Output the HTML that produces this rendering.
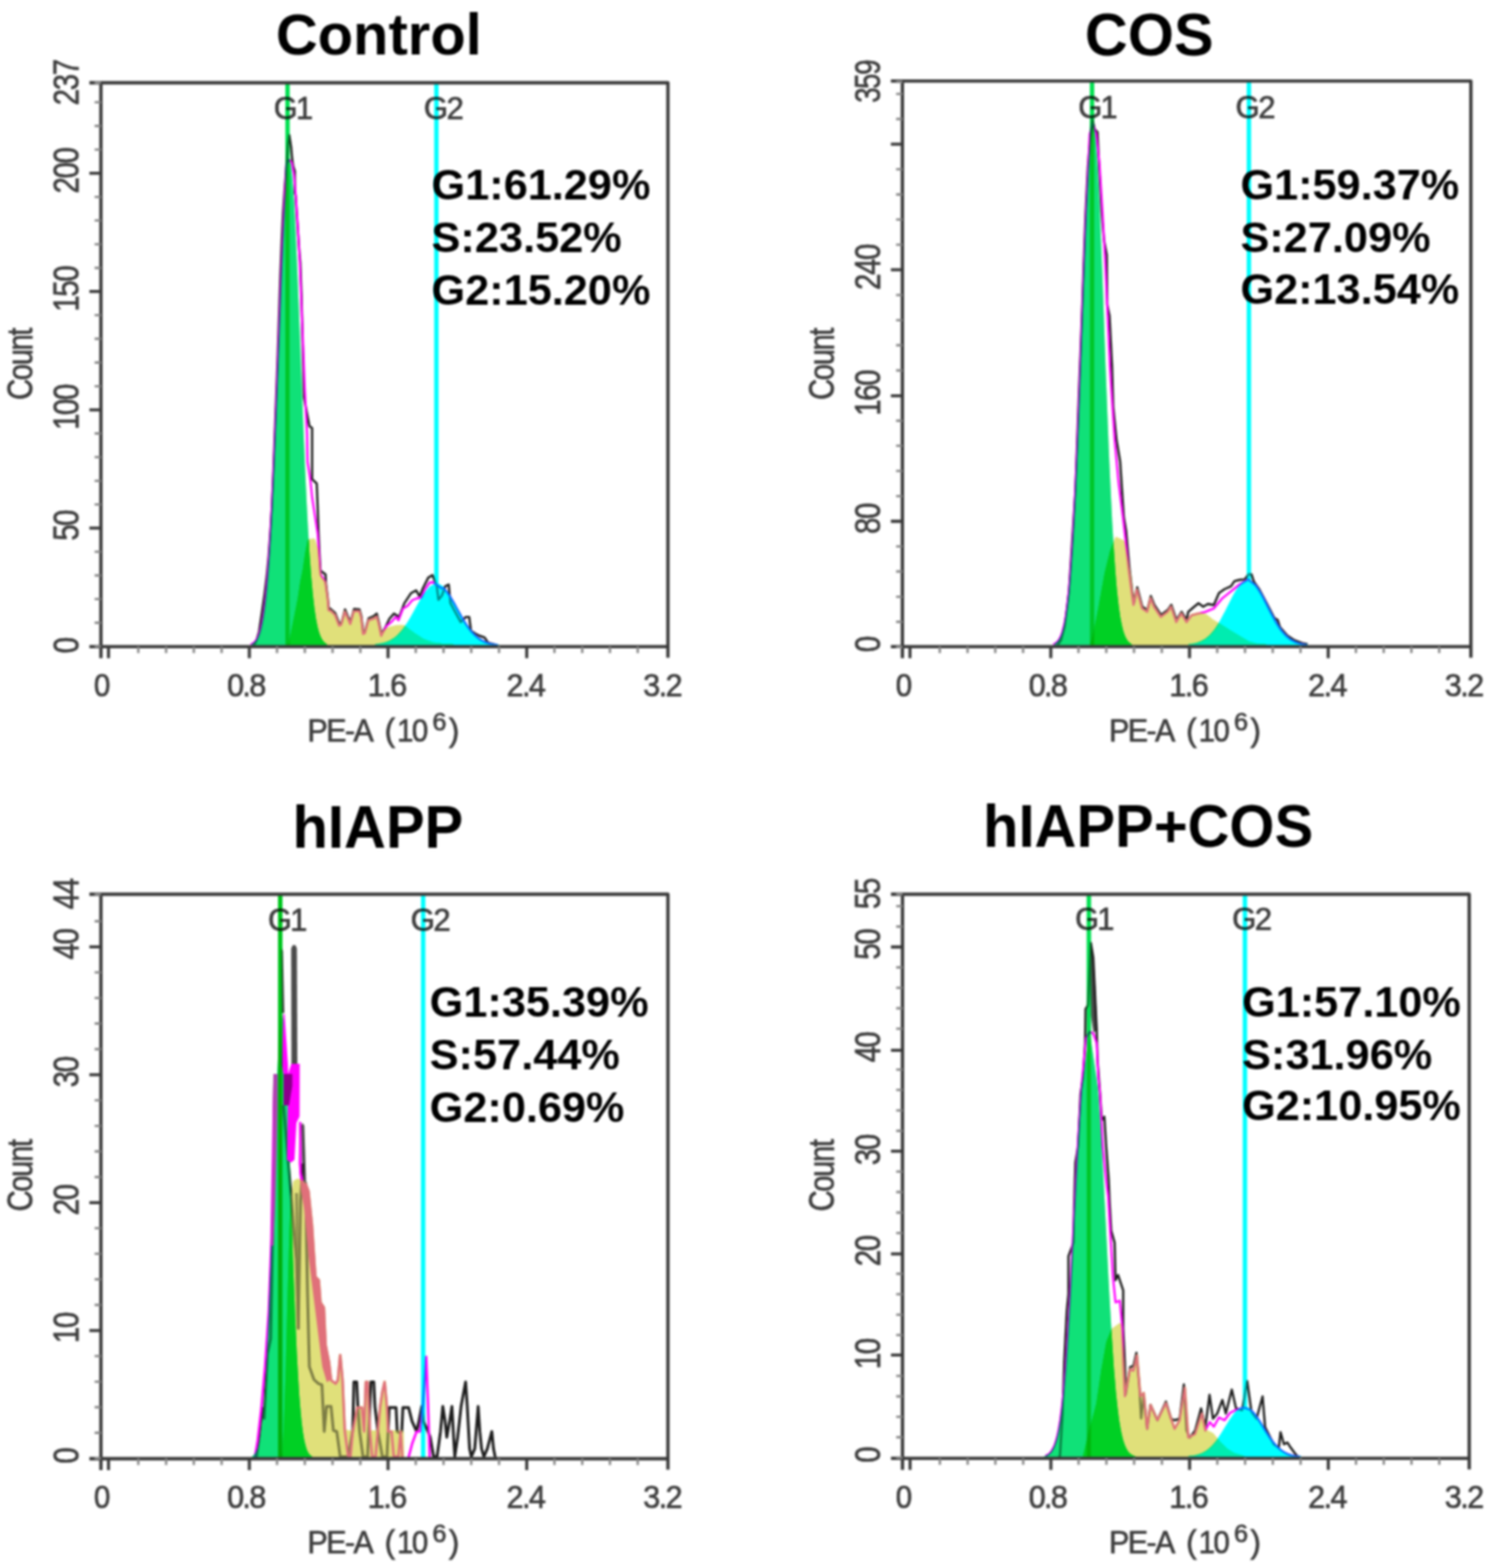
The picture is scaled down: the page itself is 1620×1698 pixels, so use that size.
<!DOCTYPE html>
<html lang="en"><head><meta charset="utf-8"><title>Cell cycle analysis</title>
<style>html,body{margin:0;padding:0;background:#fff}body{width:1620px;height:1698px;overflow:hidden}
svg{display:block;font-family:'Liberation Sans', sans-serif}
.m{mix-blend-mode:multiply}.i{isolation:isolate}
</style></head><body>
<svg width="1620" height="1698" viewBox="0 0 1620 1698">
<defs><filter id="b1" x="0" y="0" width="1620" height="1698" filterUnits="userSpaceOnUse" color-interpolation-filters="sRGB"><feGaussianBlur stdDeviation="0.9"/></filter>
<filter id="b2" x="0" y="0" width="1620" height="1698" filterUnits="userSpaceOnUse" color-interpolation-filters="sRGB"><feGaussianBlur stdDeviation="1.0"/></filter></defs>
<rect width="1620" height="1698" fill="#fff"/>
<g filter="url(#b1)"><rect width="1620" height="1698" fill="#fff"/>
<g id="p1">
<g fill="none" stroke-linejoin="round">
<path d="M275 699 L277.5 694 L280.5 684 L283.5 664 L286.5 643 L288.8 624 L290.8 603 L292.8 575 L294.3 550 L296 510 L297.5 470 L299 430 L300.5 390 L302 345 L303.5 300 L305 262 L306.5 230 L308.5 200 L310.5 175 L312 155 L313.3 146.5 L315.3 159.6 L316.3 171.5 L317.5 180 L319.3 185.3 L319.3 209 L320.2 212 L321.2 228.8 L322.2 243.6 L323.2 258.4 L324.2 273.2 L325.2 284 L326.5 320 L327.5 360 L328.5 400 L329.1 430 L335.1 461.5 L338 463.5 L338 518.8 L343 523.7 L344 548.4 L345 578 L346 600 L347 618 L352.5 622 L353 632 L355 648 L356 658 L358.5 660 L363 664 L367.5 675.5 L370 674 L373.6 660 L376.5 667 L379.5 673.5 L383.4 659.5 L389.3 660 L391.3 667 L393.3 684.5 L395.3 683.5 L399.2 669.5 L405 667 L408 664.5 L410 672.5 L413 686.5 L417.4 679.3 L421.7 670 L426.7 664.4 L432.2 668.1 L437.8 653.3 L445.2 642.2 L450.7 639.4 L454.4 645.9 L458 637 L463.7 625.6 L468.3 622.8 L473 634.8 L474.8 649.6 L478.5 645 L482.2 634.8 L485.9 633 L487.8 653.3 L493 663 L498.9 673.7 L504.4 668.1 L508.1 668.1 L510 683 L514.5 686 L519.3 688.5 L524.8 690.4 L528.5 696 L537.8 698.7" stroke="#1c1c1c" stroke-width="2.4"/>
<path d="M271.3 697.9 L272.5 697.5 L273.7 696.8 L274.9 696 L276.1 694.8 L277.3 693.3 L278.5 691.3 L279.7 688.7 L280.9 685.4 L282.1 681.2 L283.3 676 L284.5 669.6 L285.7 661.8 L286.9 652.3 L288.1 641.1 L289.3 627.9 L290.5 612.6 L291.7 595 L292.9 575.1 L294.1 552.9 L295.3 528.3 L296.5 501.7 L297.7 473.2 L298.9 443.1 L300.1 411.9 L301.3 380.1 L302.5 348.3 L303.7 317.1 L304.9 287.4 L306.1 259.7 L307.3 234.9 L310 178 L313 173 L316 176 L318.5 190 L320.5 215 L322.5 245 L324.5 280 L326.5 330 L328.5 380 L330 420 L331.5 450 L332.5 470 L333 500 L336 518.8 L338 538.5 L341 558.3 L344 578 L345.5 600 L347 622 L352.2 630 L354.8 648.3 L355.7 660.7 L358.3 661.6 L362.8 666 L367.2 677.5 L369.4 676.7 L373.4 662.5 L376.3 668.8 L379.3 675.7 L383.2 661.9 L389.1 661.9 L391.1 668.8 L393.1 686.5 L395.1 685.6 L399 671.7 L404.9 669.8 L407.9 667.8 L409.9 674.7 L412.8 688.5 L414.8 684.6 L418.8 677.6 L423.7 673.7 L428.6 668 L431.6 671.7 L436.5 658.9 L441.4 655.9 L446.4 650 L451.3 648 L456.3 647 L460.2 638.1 L465.2 631 L469 630.5 L472.5 633 L478 637 L480.3 636.9 L482.2 638.9 L484.1 641.3 L486 644 L487.9 646.9 L489.8 650.1 L491.7 653.4 L493.5 656.8 L495.4 660.2 L497.3 663.6 L499.2 667 L501.1 670.2 L503 673.3 L504.9 676.3 L506.7 679 L508.6 681.6 L510.5 683.9 L512.4 686 L514.3 687.9 L516.2 689.6 L518.1 691.1 L519.9 692.5 L521.8 693.6 L523.7 694.6 L525.6 695.4 L527.5 696.1 L529.4 696.7 L531.3 697.2 L533.1 697.6 L535 697.9 L536.9 698.2 L538.8 698.4" stroke="#ff00ff" stroke-width="2.3"/>
</g>
<clipPath id="a1"><path d="M272.5 699.1 L272.5 697.5 L274.2 696.5 L275.9 695 L277.6 692.8 L279.3 689.6 L281 685 L282.7 678.7 L284.4 670.2 L286.1 658.8 L287.8 644.1 L289.5 625.5 L291.2 602.6 L292.9 575.1 L294.6 542.9 L296.3 506.3 L298 465.8 L299.7 422.4 L301.4 377.4 L303.1 332.6 L304.8 289.8 L306.5 251.1 L308.2 218.5 L309.9 193.8 L311.6 178.4 L313.3 173.1 L315 178.4 L316.7 193.8 L318.4 218.5 L320.1 251.1 L321.8 289.8 L323.5 332.6 L325.2 377.4 L326.9 422.4 L328.6 465.8 L330.3 506.3 L332 542.9 L333.7 575.1 L335.4 602.6 L337.1 625.5 L338.8 644.1 L340.5 658.8 L342.2 670.2 L343.9 678.7 L345.6 685 L347.3 689.6 L349 692.8 L350.7 695 L352.4 696.5 L354.1 697.5 L354.1 699.1Z"/></clipPath>
<clipPath id="c1"><path d="M406.8 699.1 L406.8 698.4 L409.6 698 L412.3 697.6 L415.1 697 L417.8 696.2 L420.6 695.2 L423.3 693.8 L426.1 692.2 L428.8 690.2 L431.6 687.7 L434.3 684.8 L437.1 681.5 L439.8 677.7 L442.6 673.5 L445.3 668.9 L448.1 664 L450.8 659.1 L453.6 654.1 L456.3 649.3 L459.1 644.8 L461.8 640.9 L464.6 637.6 L467.3 635.1 L470.1 633.6 L472.8 633.1 L475.6 633.6 L478.3 635.1 L481.1 637.6 L483.8 640.9 L486.6 644.8 L489.3 649.3 L492.1 654.1 L494.8 659.1 L497.6 664 L500.3 668.9 L503.1 673.5 L505.8 677.7 L508.6 681.5 L511.3 684.8 L514 687.7 L516.8 690.2 L519.5 692.2 L522.3 693.8 L525 695.2 L527.8 696.2 L530.5 697 L533.3 697.6 L536 698 L538.8 698.4 L538.8 699.1Z"/></clipPath>
<g class="m i"><path class="m" d="M272.5 699.1 L272.5 697.5 L274.2 696.5 L275.9 695 L277.6 692.8 L279.3 689.6 L281 685 L282.7 678.7 L284.4 670.2 L286.1 658.8 L287.8 644.1 L289.5 625.5 L291.2 602.6 L292.9 575.1 L294.6 542.9 L296.3 506.3 L298 465.8 L299.7 422.4 L301.4 377.4 L303.1 332.6 L304.8 289.8 L306.5 251.1 L308.2 218.5 L309.9 193.8 L311.6 178.4 L313.3 173.1 L315 178.4 L316.7 193.8 L318.4 218.5 L320.1 251.1 L321.8 289.8 L323.5 332.6 L325.2 377.4 L326.9 422.4 L328.6 465.8 L330.3 506.3 L332 542.9 L333.7 575.1 L335.4 602.6 L337.1 625.5 L338.8 644.1 L340.5 658.8 L342.2 670.2 L343.9 678.7 L345.6 685 L347.3 689.6 L349 692.8 L350.7 695 L352.4 696.5 L354.1 697.5 L354.1 699.1Z" fill="#10e178"/><path class="m" d="M313.7 699 L316.8 683.7 L320.4 666 L323.9 648.3 L326.5 630.7 L329.2 617.4 L331.8 599.8 L334.5 585.6 L339.8 584.7 L343.3 595.3 L345.1 613 L346.5 625 L352.2 630.7 L354.8 648.3 L355.7 660.7 L358.3 661.6 L362.8 666 L367.2 677.5 L369.4 676.7 L373.4 662.5 L376.3 668.8 L379.3 675.7 L383.2 661.9 L389.1 661.9 L391.1 668.8 L393.1 686.5 L395.1 685.6 L399 671.7 L404.9 669.8 L407.9 667.8 L409.9 674.7 L412.8 688.5 L414.8 684.6 L418.8 681.6 L423.7 679.6 L428.6 678.6 L433.6 678.2 L437.5 678.6 L443.5 683.6 L448.4 687 L458.3 693.5 L468.1 696.9 L478 698.3 L490 699Z" fill="#e0e07a" stroke="#e0e07a" stroke-width="3" stroke-linejoin="round"/><path d="M313.7 699 L316.8 683.7 L320.4 666 L323.9 648.3 L326.5 630.7 L329.2 617.4 L331.8 599.8 L334.5 585.6 L339.8 584.7 L343.3 595.3 L345.1 613 L346.5 625 L352.2 630.7 L354.8 648.3 L355.7 660.7 L358.3 661.6 L362.8 666 L367.2 677.5 L369.4 676.7 L373.4 662.5 L376.3 668.8 L379.3 675.7 L383.2 661.9 L389.1 661.9 L391.1 668.8 L393.1 686.5 L395.1 685.6 L399 671.7 L404.9 669.8 L407.9 667.8 L409.9 674.7 L412.8 688.5 L414.8 684.6 L418.8 681.6 L423.7 679.6 L428.6 678.6 L433.6 678.2 L437.5 678.6 L443.5 683.6 L448.4 687 L458.3 693.5 L468.1 696.9 L478 698.3 L490 699Z" fill="#00d024" stroke="#00d024" stroke-width="3" stroke-linejoin="round" clip-path="url(#a1)"/><path class="m" d="M406.8 699.1 L406.8 698.4 L409.6 698 L412.3 697.6 L415.1 697 L417.8 696.2 L420.6 695.2 L423.3 693.8 L426.1 692.2 L428.8 690.2 L431.6 687.7 L434.3 684.8 L437.1 681.5 L439.8 677.7 L442.6 673.5 L445.3 668.9 L448.1 664 L450.8 659.1 L453.6 654.1 L456.3 649.3 L459.1 644.8 L461.8 640.9 L464.6 637.6 L467.3 635.1 L470.1 633.6 L472.8 633.1 L475.6 633.6 L478.3 635.1 L481.1 637.6 L483.8 640.9 L486.6 644.8 L489.3 649.3 L492.1 654.1 L494.8 659.1 L497.6 664 L500.3 668.9 L503.1 673.5 L505.8 677.7 L508.6 681.5 L511.3 684.8 L514 687.7 L516.8 690.2 L519.5 692.2 L522.3 693.8 L525 695.2 L527.8 696.2 L530.5 697 L533.3 697.6 L536 698 L538.8 698.4 L538.8 699.1Z" fill="#00ffff" stroke="#00ffff" stroke-width="2" stroke-linejoin="round"/><path d="M313.7 699 L316.8 683.7 L320.4 666 L323.9 648.3 L326.5 630.7 L329.2 617.4 L331.8 599.8 L334.5 585.6 L339.8 584.7 L343.3 595.3 L345.1 613 L346.5 625 L352.2 630.7 L354.8 648.3 L355.7 660.7 L358.3 661.6 L362.8 666 L367.2 677.5 L369.4 676.7 L373.4 662.5 L376.3 668.8 L379.3 675.7 L383.2 661.9 L389.1 661.9 L391.1 668.8 L393.1 686.5 L395.1 685.6 L399 671.7 L404.9 669.8 L407.9 667.8 L409.9 674.7 L412.8 688.5 L414.8 684.6 L418.8 681.6 L423.7 679.6 L428.6 678.6 L433.6 678.2 L437.5 678.6 L443.5 683.6 L448.4 687 L458.3 693.5 L468.1 696.9 L478 698.3 L490 699Z" fill="#00ecb0" stroke="#00ecb0" stroke-width="3" stroke-linejoin="round" clip-path="url(#c1)"/><path class="m" d="M311.3 90.6 V699.3" stroke="#00e050" stroke-width="4.6" fill="none"/><path class="m" d="M472.6 90.6 V699.3" stroke="#00ffff" stroke-width="4.6" fill="none"/></g>
<g class="i" opacity="0.5"><path class="m" d="M272.5 699.1 L272.5 697.5 L274.2 696.5 L275.9 695 L277.6 692.8 L279.3 689.6 L281 685 L282.7 678.7 L284.4 670.2 L286.1 658.8 L287.8 644.1 L289.5 625.5 L291.2 602.6 L292.9 575.1 L294.6 542.9 L296.3 506.3 L298 465.8 L299.7 422.4 L301.4 377.4 L303.1 332.6 L304.8 289.8 L306.5 251.1 L308.2 218.5 L309.9 193.8 L311.6 178.4 L313.3 173.1 L315 178.4 L316.7 193.8 L318.4 218.5 L320.1 251.1 L321.8 289.8 L323.5 332.6 L325.2 377.4 L326.9 422.4 L328.6 465.8 L330.3 506.3 L332 542.9 L333.7 575.1 L335.4 602.6 L337.1 625.5 L338.8 644.1 L340.5 658.8 L342.2 670.2 L343.9 678.7 L345.6 685 L347.3 689.6 L349 692.8 L350.7 695 L352.4 696.5 L354.1 697.5 L354.1 699.1Z" fill="#10e178"/><path class="m" d="M313.7 699 L316.8 683.7 L320.4 666 L323.9 648.3 L326.5 630.7 L329.2 617.4 L331.8 599.8 L334.5 585.6 L339.8 584.7 L343.3 595.3 L345.1 613 L346.5 625 L352.2 630.7 L354.8 648.3 L355.7 660.7 L358.3 661.6 L362.8 666 L367.2 677.5 L369.4 676.7 L373.4 662.5 L376.3 668.8 L379.3 675.7 L383.2 661.9 L389.1 661.9 L391.1 668.8 L393.1 686.5 L395.1 685.6 L399 671.7 L404.9 669.8 L407.9 667.8 L409.9 674.7 L412.8 688.5 L414.8 684.6 L418.8 681.6 L423.7 679.6 L428.6 678.6 L433.6 678.2 L437.5 678.6 L443.5 683.6 L448.4 687 L458.3 693.5 L468.1 696.9 L478 698.3 L490 699Z" fill="#e0e07a" stroke="#e0e07a" stroke-width="3" stroke-linejoin="round"/><path d="M313.7 699 L316.8 683.7 L320.4 666 L323.9 648.3 L326.5 630.7 L329.2 617.4 L331.8 599.8 L334.5 585.6 L339.8 584.7 L343.3 595.3 L345.1 613 L346.5 625 L352.2 630.7 L354.8 648.3 L355.7 660.7 L358.3 661.6 L362.8 666 L367.2 677.5 L369.4 676.7 L373.4 662.5 L376.3 668.8 L379.3 675.7 L383.2 661.9 L389.1 661.9 L391.1 668.8 L393.1 686.5 L395.1 685.6 L399 671.7 L404.9 669.8 L407.9 667.8 L409.9 674.7 L412.8 688.5 L414.8 684.6 L418.8 681.6 L423.7 679.6 L428.6 678.6 L433.6 678.2 L437.5 678.6 L443.5 683.6 L448.4 687 L458.3 693.5 L468.1 696.9 L478 698.3 L490 699Z" fill="#00d024" stroke="#00d024" stroke-width="3" stroke-linejoin="round" clip-path="url(#a1)"/><path class="m" d="M406.8 699.1 L406.8 698.4 L409.6 698 L412.3 697.6 L415.1 697 L417.8 696.2 L420.6 695.2 L423.3 693.8 L426.1 692.2 L428.8 690.2 L431.6 687.7 L434.3 684.8 L437.1 681.5 L439.8 677.7 L442.6 673.5 L445.3 668.9 L448.1 664 L450.8 659.1 L453.6 654.1 L456.3 649.3 L459.1 644.8 L461.8 640.9 L464.6 637.6 L467.3 635.1 L470.1 633.6 L472.8 633.1 L475.6 633.6 L478.3 635.1 L481.1 637.6 L483.8 640.9 L486.6 644.8 L489.3 649.3 L492.1 654.1 L494.8 659.1 L497.6 664 L500.3 668.9 L503.1 673.5 L505.8 677.7 L508.6 681.5 L511.3 684.8 L514 687.7 L516.8 690.2 L519.5 692.2 L522.3 693.8 L525 695.2 L527.8 696.2 L530.5 697 L533.3 697.6 L536 698 L538.8 698.4 L538.8 699.1Z" fill="#00ffff" stroke="#00ffff" stroke-width="2" stroke-linejoin="round"/><path d="M313.7 699 L316.8 683.7 L320.4 666 L323.9 648.3 L326.5 630.7 L329.2 617.4 L331.8 599.8 L334.5 585.6 L339.8 584.7 L343.3 595.3 L345.1 613 L346.5 625 L352.2 630.7 L354.8 648.3 L355.7 660.7 L358.3 661.6 L362.8 666 L367.2 677.5 L369.4 676.7 L373.4 662.5 L376.3 668.8 L379.3 675.7 L383.2 661.9 L389.1 661.9 L391.1 668.8 L393.1 686.5 L395.1 685.6 L399 671.7 L404.9 669.8 L407.9 667.8 L409.9 674.7 L412.8 688.5 L414.8 684.6 L418.8 681.6 L423.7 679.6 L428.6 678.6 L433.6 678.2 L437.5 678.6 L443.5 683.6 L448.4 687 L458.3 693.5 L468.1 696.9 L478 698.3 L490 699Z" fill="#00ecb0" stroke="#00ecb0" stroke-width="3" stroke-linejoin="round" clip-path="url(#c1)"/><path class="m" d="M311.3 90.6 V699.3" stroke="#00e050" stroke-width="4.6" fill="none"/><path class="m" d="M472.6 90.6 V699.3" stroke="#00ffff" stroke-width="4.6" fill="none"/></g>
<g stroke="#3a3a3a" fill="none">
<path d="M96.8 89.6 H723.3 V712.3" stroke-width="3.6" stroke-linejoin="round"/>
<path d="M109.3 89.6 V712.8 M96.8 700.3 H723.3" stroke-width="3.6"/>
<path d="M117.5 700.3 V712.8M270 700.3 V712.8M420.2 700.3 V712.8M570.4 700.3 V712.8M109.3 571.9 H96.8M109.3 443.8 H96.8M109.3 315.7 H96.8M109.3 187.6 H96.8" stroke-width="3.3"/>
<path d="M149.8 700.3 V707.3M179.9 700.3 V707.3M209.9 700.3 V707.3M240 700.3 V707.3M300 700.3 V707.3M330.1 700.3 V707.3M360.1 700.3 V707.3M390.2 700.3 V707.3M450.2 700.3 V707.3M480.3 700.3 V707.3M510.3 700.3 V707.3M540.4 700.3 V707.3M600.4 700.3 V707.3M630.5 700.3 V707.3M660.5 700.3 V707.3M690.6 700.3 V707.3M109.3 674.4 H102.5M109.3 648.8 H102.5M109.3 623.1 H102.5M109.3 597.5 H102.5M109.3 546.3 H102.5M109.3 520.7 H102.5M109.3 495 H102.5M109.3 469.4 H102.5M109.3 418.2 H102.5M109.3 392.6 H102.5M109.3 366.9 H102.5M109.3 341.3 H102.5M109.3 290.1 H102.5M109.3 264.5 H102.5M109.3 238.8 H102.5M109.3 213.2 H102.5M109.3 162 H102.5M109.3 136.4 H102.5M109.3 110.7 H102.5M109.3 700 H102.5M109.3 89.6 H102.5" stroke-width="2.6" stroke="#8a8a8a"/>
</g>
<g class="t">
<text transform="translate(85 569.4) rotate(-90)" font-size="38" text-anchor="middle" stroke="#3c3c3c" stroke-width="0.7" letter-spacing="-1.8" fill="#3c3c3c" textLength="32.4" lengthAdjust="spacingAndGlyphs">50</text>
<text transform="translate(85 441.3) rotate(-90)" font-size="38" text-anchor="middle" stroke="#3c3c3c" stroke-width="0.7" letter-spacing="-1.8" fill="#3c3c3c" textLength="48.6" lengthAdjust="spacingAndGlyphs">100</text>
<text transform="translate(85 313.2) rotate(-90)" font-size="38" text-anchor="middle" stroke="#3c3c3c" stroke-width="0.7" letter-spacing="-1.8" fill="#3c3c3c" textLength="48.6" lengthAdjust="spacingAndGlyphs">150</text>
<text transform="translate(85 185.1) rotate(-90)" font-size="38" text-anchor="middle" stroke="#3c3c3c" stroke-width="0.7" letter-spacing="-1.8" fill="#3c3c3c" textLength="48.6" lengthAdjust="spacingAndGlyphs">200</text>
<text transform="translate(85 699.5) rotate(-90)" font-size="38" text-anchor="middle" stroke="#3c3c3c" stroke-width="0.7" letter-spacing="-1.8" fill="#3c3c3c" textLength="16.2" lengthAdjust="spacingAndGlyphs">0</text>
<text transform="translate(85 89.6) rotate(-90)" font-size="38" text-anchor="middle" stroke="#3c3c3c" stroke-width="0.7" letter-spacing="-1.8" fill="#3c3c3c" textLength="48.6" lengthAdjust="spacingAndGlyphs">237</text>
<text x="109.7" y="753.8" font-size="34.3" text-anchor="middle" stroke="#3c3c3c" stroke-width="0.7" letter-spacing="-1.8" fill="#3c3c3c" textLength="16" lengthAdjust="spacingAndGlyphs">0</text>
<text x="266.3" y="753.8" font-size="34.3" text-anchor="middle" stroke="#3c3c3c" stroke-width="0.7" letter-spacing="-1.8" fill="#3c3c3c" textLength="40.8" lengthAdjust="spacingAndGlyphs">0.8</text>
<text x="418.7" y="753.8" font-size="34.3" text-anchor="middle" stroke="#3c3c3c" stroke-width="0.7" letter-spacing="-1.8" fill="#3c3c3c" textLength="40.8" lengthAdjust="spacingAndGlyphs">1.6</text>
<text x="569" y="753.8" font-size="34.3" text-anchor="middle" stroke="#3c3c3c" stroke-width="0.7" letter-spacing="-1.8" fill="#3c3c3c" textLength="40.8" lengthAdjust="spacingAndGlyphs">2.4</text>
<text x="717" y="753.8" font-size="34.3" text-anchor="middle" stroke="#3c3c3c" stroke-width="0.7" letter-spacing="-1.8" fill="#3c3c3c" textLength="40.8" lengthAdjust="spacingAndGlyphs">3.2</text>
<text y="803" font-size="34.3" fill="#3c3c3c" stroke="#3c3c3c" stroke-width="0.7" letter-spacing="-1.8"><tspan x="333" textLength="70" lengthAdjust="spacingAndGlyphs">PE-A</tspan><tspan x="408.8"> (</tspan><tspan x="430" textLength="32" lengthAdjust="spacingAndGlyphs">10</tspan><tspan x="468.2" dy="-11.8" font-size="27.4">6</tspan><tspan x="486" dy="11.8">)</tspan></text>
<text transform="translate(34.8 394.6) rotate(-90)" font-size="38" text-anchor="middle" stroke="#3c3c3c" stroke-width="0.7" letter-spacing="-1.8" fill="#3c3c3c" textLength="76.8" lengthAdjust="spacingAndGlyphs">Count</text>
</g>
<g class="t m">
<text x="296.5" y="129.3" font-size="34.3" text-anchor="start" stroke="#3c3c3c" stroke-width="0.7" letter-spacing="-1.8" fill="#3c3c3c" textLength="40.8" lengthAdjust="spacingAndGlyphs" class="m">G1</text>
<text x="459" y="129.3" font-size="34.3" text-anchor="start" stroke="#3c3c3c" stroke-width="0.7" letter-spacing="-1.8" fill="#3c3c3c" textLength="41.5" lengthAdjust="spacingAndGlyphs" class="m">G2</text>
</g>
</g>
<g id="p2">
<g fill="none" stroke-linejoin="round">
<path d="M1145 699 L1149 693 L1153 678 L1157.5 641 L1161 586 L1164.5 531 L1166.5 475 L1168.5 420 L1170.5 370 L1172 330 L1173.5 286 L1175.5 231 L1178 180 L1180.5 150 L1183 129.5 L1185.5 140 L1188.5 143 L1190 175 L1193 230 L1195.5 260 L1198.5 276 L1199 330 L1201.5 342 L1204.3 397.8 L1205.5 440 L1209 475.6 L1213 500 L1217 560 L1219.5 575 L1223 615 L1226 640 L1228 653 L1231.5 636 L1237 657 L1242.5 660.5 L1246.2 645.5 L1250 655 L1257.3 666 L1264.6 660.5 L1268.4 655 L1274 671.5 L1279.6 662.5 L1285 671.5 L1286.7 662.6 L1292 658 L1297.8 653.3 L1303 657 L1308 654 L1314.4 655.2 L1320 642.2 L1326 638 L1333 634.8 L1336.7 629.3 L1342 628 L1347.8 627.4 L1352 622 L1355.2 621.9 L1358 630.3 L1364 638.8 L1372 653.7 L1380 669.2 L1383.5 671.2 L1386 679 L1394 688.2 L1402 693.5 L1410 696.3 L1416 697.6" stroke="#1c1c1c" stroke-width="2.4"/>
<path d="M1140.5 697.9 L1141.7 697.4 L1142.9 696.7 L1144.1 695.7 L1145.4 694.5 L1146.6 692.8 L1147.8 690.7 L1149.1 687.9 L1150.3 684.3 L1151.5 679.9 L1152.8 674.3 L1154 667.4 L1155.2 659 L1156.4 648.9 L1157.7 636.8 L1158.9 622.6 L1160.1 606.2 L1161.4 587.3 L1162.6 565.9 L1163.8 542 L1165 515.7 L1166.3 487 L1167.5 456.4 L1168.7 424.1 L1170 390.6 L1171.2 356.4 L1172.4 322.3 L1173.7 288.8 L1174.9 256.9 L1176.1 227.2 L1177.4 200.5 L1180 145 L1183.5 134.5 L1187 145 L1190.5 175.6 L1194 231 L1197 286.7 L1199.5 342 L1202 397.8 L1204 430 L1207 475.6 L1211 520 L1216 560 L1219 586.7 L1222 615 L1225.6 642 L1227.4 655.2 L1231.1 638.5 L1236.7 658.9 L1242.2 662.6 L1245.9 647.8 L1249.6 657 L1257 668.1 L1264.4 662.6 L1268.1 657 L1273.7 673.7 L1279.3 664.4 L1284.8 673.7 L1290.4 666.3 L1297.8 664.4 L1305.2 662.6 L1314.4 658.9 L1323.7 647.8 L1333 640.4 L1342.2 633 L1351.5 627.4 L1358.8 633.1 L1360.6 635.2 L1362.4 637.8 L1364.2 640.6 L1366 643.8 L1367.9 647.1 L1369.7 650.6 L1371.5 654.2 L1373.3 657.9 L1375.1 661.5 L1376.9 665 L1378.8 668.5 L1380.6 671.8 L1382.4 674.9 L1384.2 677.8 L1386 680.5 L1387.8 683 L1389.7 685.2 L1391.5 687.3 L1393.3 689.1 L1395.1 690.7 L1396.9 692.1 L1398.7 693.3 L1400.6 694.3 L1402.4 695.2 L1404.2 695.9 L1406 696.5 L1407.8 697 L1409.6 697.5 L1411.5 697.8 L1413.3 698.1 L1415.1 698.3" stroke="#ff00ff" stroke-width="2.3"/>
</g>
<clipPath id="a2"><path d="M1141.7 699.1 L1141.7 697.4 L1143.4 696.3 L1145.2 694.7 L1146.9 692.3 L1148.7 688.9 L1150.4 684 L1152.1 677.2 L1153.9 668 L1155.6 655.8 L1157.4 640 L1159.1 620.1 L1160.8 595.5 L1162.6 565.9 L1164.3 531.3 L1166.1 492 L1167.8 448.5 L1169.6 401.8 L1171.3 353.6 L1173 305.4 L1174.8 259.5 L1176.5 217.9 L1178.3 182.9 L1180 156.3 L1181.8 139.7 L1183.5 134.1 L1185.2 139.7 L1187 156.3 L1188.7 182.9 L1190.5 217.9 L1192.2 259.5 L1194 305.4 L1195.7 353.6 L1197.4 401.8 L1199.2 448.5 L1200.9 492 L1202.7 531.3 L1204.4 565.9 L1206.2 595.5 L1207.9 620.1 L1209.6 640 L1211.4 655.8 L1213.1 668 L1214.9 677.2 L1216.6 684 L1218.4 688.9 L1220.1 692.3 L1221.8 694.7 L1223.6 696.3 L1225.3 697.4 L1225.3 699.1Z"/></clipPath>
<clipPath id="c2"><path d="M1287.9 699.1 L1287.9 698.3 L1290.6 698 L1293.2 697.5 L1295.9 696.9 L1298.5 696 L1301.2 694.9 L1303.8 693.5 L1306.5 691.8 L1309.1 689.6 L1311.8 687 L1314.4 684 L1317.1 680.4 L1319.7 676.4 L1322.4 671.9 L1325 667.1 L1327.7 661.9 L1330.3 656.6 L1333 651.4 L1335.6 646.3 L1338.2 641.5 L1340.9 637.3 L1343.6 633.9 L1346.2 631.3 L1348.9 629.6 L1351.5 629.1 L1354.2 629.6 L1356.8 631.3 L1359.5 633.9 L1362.1 637.3 L1364.8 641.5 L1367.4 646.3 L1370.1 651.4 L1372.7 656.6 L1375.4 661.9 L1378 667.1 L1380.7 671.9 L1383.3 676.4 L1386 680.4 L1388.6 684 L1391.2 687 L1393.9 689.6 L1396.6 691.8 L1399.2 693.5 L1401.9 694.9 L1404.5 696 L1407.2 696.9 L1409.8 697.5 L1412.5 698 L1415.1 698.3 L1415.1 699.1Z"/></clipPath>
<g class="m i"><path class="m" d="M1141.7 699.1 L1141.7 697.4 L1143.4 696.3 L1145.2 694.7 L1146.9 692.3 L1148.7 688.9 L1150.4 684 L1152.1 677.2 L1153.9 668 L1155.6 655.8 L1157.4 640 L1159.1 620.1 L1160.8 595.5 L1162.6 565.9 L1164.3 531.3 L1166.1 492 L1167.8 448.5 L1169.6 401.8 L1171.3 353.6 L1173 305.4 L1174.8 259.5 L1176.5 217.9 L1178.3 182.9 L1180 156.3 L1181.8 139.7 L1183.5 134.1 L1185.2 139.7 L1187 156.3 L1188.7 182.9 L1190.5 217.9 L1192.2 259.5 L1194 305.4 L1195.7 353.6 L1197.4 401.8 L1199.2 448.5 L1200.9 492 L1202.7 531.3 L1204.4 565.9 L1206.2 595.5 L1207.9 620.1 L1209.6 640 L1211.4 655.8 L1213.1 668 L1214.9 677.2 L1216.6 684 L1218.4 688.9 L1220.1 692.3 L1221.8 694.7 L1223.6 696.3 L1225.3 697.4 L1225.3 699.1Z" fill="#10e178"/><path class="m" d="M1182 699 L1184.8 688.5 L1190.4 660.7 L1197.8 620 L1203.3 597.8 L1208.9 583 L1216.3 586.7 L1220 605.2 L1223.7 623.7 L1227.4 655.2 L1231.1 638.5 L1236.7 658.9 L1242.2 662.6 L1245.9 647.8 L1249.6 657 L1257 668.1 L1264.4 662.6 L1268.1 657 L1273.7 673.7 L1279.3 664.4 L1284.8 673.7 L1290.4 666.3 L1297.8 664.4 L1305.2 666.3 L1312.6 671.9 L1320 676.5 L1333 684.8 L1342.2 690.4 L1351.5 695.9 L1360.7 698.5 L1370 699Z" fill="#e0e07a" stroke="#e0e07a" stroke-width="3" stroke-linejoin="round"/><path d="M1182 699 L1184.8 688.5 L1190.4 660.7 L1197.8 620 L1203.3 597.8 L1208.9 583 L1216.3 586.7 L1220 605.2 L1223.7 623.7 L1227.4 655.2 L1231.1 638.5 L1236.7 658.9 L1242.2 662.6 L1245.9 647.8 L1249.6 657 L1257 668.1 L1264.4 662.6 L1268.1 657 L1273.7 673.7 L1279.3 664.4 L1284.8 673.7 L1290.4 666.3 L1297.8 664.4 L1305.2 666.3 L1312.6 671.9 L1320 676.5 L1333 684.8 L1342.2 690.4 L1351.5 695.9 L1360.7 698.5 L1370 699Z" fill="#00d024" stroke="#00d024" stroke-width="3" stroke-linejoin="round" clip-path="url(#a2)"/><path class="m" d="M1287.9 699.1 L1287.9 698.3 L1290.6 698 L1293.2 697.5 L1295.9 696.9 L1298.5 696 L1301.2 694.9 L1303.8 693.5 L1306.5 691.8 L1309.1 689.6 L1311.8 687 L1314.4 684 L1317.1 680.4 L1319.7 676.4 L1322.4 671.9 L1325 667.1 L1327.7 661.9 L1330.3 656.6 L1333 651.4 L1335.6 646.3 L1338.2 641.5 L1340.9 637.3 L1343.6 633.9 L1346.2 631.3 L1348.9 629.6 L1351.5 629.1 L1354.2 629.6 L1356.8 631.3 L1359.5 633.9 L1362.1 637.3 L1364.8 641.5 L1367.4 646.3 L1370.1 651.4 L1372.7 656.6 L1375.4 661.9 L1378 667.1 L1380.7 671.9 L1383.3 676.4 L1386 680.4 L1388.6 684 L1391.2 687 L1393.9 689.6 L1396.6 691.8 L1399.2 693.5 L1401.9 694.9 L1404.5 696 L1407.2 696.9 L1409.8 697.5 L1412.5 698 L1415.1 698.3 L1415.1 699.1Z" fill="#00ffff" stroke="#00ffff" stroke-width="2" stroke-linejoin="round"/><path d="M1182 699 L1184.8 688.5 L1190.4 660.7 L1197.8 620 L1203.3 597.8 L1208.9 583 L1216.3 586.7 L1220 605.2 L1223.7 623.7 L1227.4 655.2 L1231.1 638.5 L1236.7 658.9 L1242.2 662.6 L1245.9 647.8 L1249.6 657 L1257 668.1 L1264.4 662.6 L1268.1 657 L1273.7 673.7 L1279.3 664.4 L1284.8 673.7 L1290.4 666.3 L1297.8 664.4 L1305.2 666.3 L1312.6 671.9 L1320 676.5 L1333 684.8 L1342.2 690.4 L1351.5 695.9 L1360.7 698.5 L1370 699Z" fill="#00ecb0" stroke="#00ecb0" stroke-width="3" stroke-linejoin="round" clip-path="url(#c2)"/><path class="m" d="M1182.6 88.8 V699.3" stroke="#00e050" stroke-width="4.6" fill="none"/><path class="m" d="M1352.4 88.8 V699.3" stroke="#00ffff" stroke-width="4.6" fill="none"/></g>
<g class="i" opacity="0.5"><path class="m" d="M1141.7 699.1 L1141.7 697.4 L1143.4 696.3 L1145.2 694.7 L1146.9 692.3 L1148.7 688.9 L1150.4 684 L1152.1 677.2 L1153.9 668 L1155.6 655.8 L1157.4 640 L1159.1 620.1 L1160.8 595.5 L1162.6 565.9 L1164.3 531.3 L1166.1 492 L1167.8 448.5 L1169.6 401.8 L1171.3 353.6 L1173 305.4 L1174.8 259.5 L1176.5 217.9 L1178.3 182.9 L1180 156.3 L1181.8 139.7 L1183.5 134.1 L1185.2 139.7 L1187 156.3 L1188.7 182.9 L1190.5 217.9 L1192.2 259.5 L1194 305.4 L1195.7 353.6 L1197.4 401.8 L1199.2 448.5 L1200.9 492 L1202.7 531.3 L1204.4 565.9 L1206.2 595.5 L1207.9 620.1 L1209.6 640 L1211.4 655.8 L1213.1 668 L1214.9 677.2 L1216.6 684 L1218.4 688.9 L1220.1 692.3 L1221.8 694.7 L1223.6 696.3 L1225.3 697.4 L1225.3 699.1Z" fill="#10e178"/><path class="m" d="M1182 699 L1184.8 688.5 L1190.4 660.7 L1197.8 620 L1203.3 597.8 L1208.9 583 L1216.3 586.7 L1220 605.2 L1223.7 623.7 L1227.4 655.2 L1231.1 638.5 L1236.7 658.9 L1242.2 662.6 L1245.9 647.8 L1249.6 657 L1257 668.1 L1264.4 662.6 L1268.1 657 L1273.7 673.7 L1279.3 664.4 L1284.8 673.7 L1290.4 666.3 L1297.8 664.4 L1305.2 666.3 L1312.6 671.9 L1320 676.5 L1333 684.8 L1342.2 690.4 L1351.5 695.9 L1360.7 698.5 L1370 699Z" fill="#e0e07a" stroke="#e0e07a" stroke-width="3" stroke-linejoin="round"/><path d="M1182 699 L1184.8 688.5 L1190.4 660.7 L1197.8 620 L1203.3 597.8 L1208.9 583 L1216.3 586.7 L1220 605.2 L1223.7 623.7 L1227.4 655.2 L1231.1 638.5 L1236.7 658.9 L1242.2 662.6 L1245.9 647.8 L1249.6 657 L1257 668.1 L1264.4 662.6 L1268.1 657 L1273.7 673.7 L1279.3 664.4 L1284.8 673.7 L1290.4 666.3 L1297.8 664.4 L1305.2 666.3 L1312.6 671.9 L1320 676.5 L1333 684.8 L1342.2 690.4 L1351.5 695.9 L1360.7 698.5 L1370 699Z" fill="#00d024" stroke="#00d024" stroke-width="3" stroke-linejoin="round" clip-path="url(#a2)"/><path class="m" d="M1287.9 699.1 L1287.9 698.3 L1290.6 698 L1293.2 697.5 L1295.9 696.9 L1298.5 696 L1301.2 694.9 L1303.8 693.5 L1306.5 691.8 L1309.1 689.6 L1311.8 687 L1314.4 684 L1317.1 680.4 L1319.7 676.4 L1322.4 671.9 L1325 667.1 L1327.7 661.9 L1330.3 656.6 L1333 651.4 L1335.6 646.3 L1338.2 641.5 L1340.9 637.3 L1343.6 633.9 L1346.2 631.3 L1348.9 629.6 L1351.5 629.1 L1354.2 629.6 L1356.8 631.3 L1359.5 633.9 L1362.1 637.3 L1364.8 641.5 L1367.4 646.3 L1370.1 651.4 L1372.7 656.6 L1375.4 661.9 L1378 667.1 L1380.7 671.9 L1383.3 676.4 L1386 680.4 L1388.6 684 L1391.2 687 L1393.9 689.6 L1396.6 691.8 L1399.2 693.5 L1401.9 694.9 L1404.5 696 L1407.2 696.9 L1409.8 697.5 L1412.5 698 L1415.1 698.3 L1415.1 699.1Z" fill="#00ffff" stroke="#00ffff" stroke-width="2" stroke-linejoin="round"/><path d="M1182 699 L1184.8 688.5 L1190.4 660.7 L1197.8 620 L1203.3 597.8 L1208.9 583 L1216.3 586.7 L1220 605.2 L1223.7 623.7 L1227.4 655.2 L1231.1 638.5 L1236.7 658.9 L1242.2 662.6 L1245.9 647.8 L1249.6 657 L1257 668.1 L1264.4 662.6 L1268.1 657 L1273.7 673.7 L1279.3 664.4 L1284.8 673.7 L1290.4 666.3 L1297.8 664.4 L1305.2 666.3 L1312.6 671.9 L1320 676.5 L1333 684.8 L1342.2 690.4 L1351.5 695.9 L1360.7 698.5 L1370 699Z" fill="#00ecb0" stroke="#00ecb0" stroke-width="3" stroke-linejoin="round" clip-path="url(#c2)"/><path class="m" d="M1182.6 88.8 V699.3" stroke="#00e050" stroke-width="4.6" fill="none"/><path class="m" d="M1352.4 88.8 V699.3" stroke="#00ffff" stroke-width="4.6" fill="none"/></g>
<g stroke="#3a3a3a" fill="none">
<path d="M964.7 87.8 H1592.8 V712.3" stroke-width="3.6" stroke-linejoin="round"/>
<path d="M977.2 87.8 V712.8 M964.7 700.3 H1592.8" stroke-width="3.6"/>
<path d="M985.4 700.3 V712.8M1137.9 700.3 V712.8M1288.1 700.3 V712.8M1438.3 700.3 V712.8M977.2 564.5 H964.7M977.2 428.6 H964.7M977.2 292.2 H964.7M977.2 156.1 H964.7" stroke-width="3.3"/>
<path d="M1017.7 700.3 V707.3M1047.8 700.3 V707.3M1077.8 700.3 V707.3M1107.9 700.3 V707.3M1167.9 700.3 V707.3M1198 700.3 V707.3M1228 700.3 V707.3M1258.1 700.3 V707.3M1318.1 700.3 V707.3M1348.2 700.3 V707.3M1378.2 700.3 V707.3M1408.3 700.3 V707.3M1468.3 700.3 V707.3M1498.4 700.3 V707.3M1528.4 700.3 V707.3M1558.5 700.3 V707.3M977.2 673.4 H970.4M977.2 646.2 H970.4M977.2 618.9 H970.4M977.2 591.7 H970.4M977.2 537.3 H970.4M977.2 510 H970.4M977.2 482.8 H970.4M977.2 455.6 H970.4M977.2 401.1 H970.4M977.2 373.9 H970.4M977.2 346.7 H970.4M977.2 319.5 H970.4M977.2 265 H970.4M977.2 237.8 H970.4M977.2 210.6 H970.4M977.2 183.3 H970.4M977.2 128.9 H970.4M977.2 101.7 H970.4M977.2 700.6 H970.4M977.2 88.6 H970.4" stroke-width="2.6" stroke="#8a8a8a"/>
</g>
<g class="t">
<text transform="translate(952.9 562) rotate(-90)" font-size="38" text-anchor="middle" stroke="#3c3c3c" stroke-width="0.7" letter-spacing="-1.8" fill="#3c3c3c" textLength="32.4" lengthAdjust="spacingAndGlyphs">80</text>
<text transform="translate(952.9 425.9) rotate(-90)" font-size="38" text-anchor="middle" stroke="#3c3c3c" stroke-width="0.7" letter-spacing="-1.8" fill="#3c3c3c" textLength="48.6" lengthAdjust="spacingAndGlyphs">160</text>
<text transform="translate(952.9 289.7) rotate(-90)" font-size="38" text-anchor="middle" stroke="#3c3c3c" stroke-width="0.7" letter-spacing="-1.8" fill="#3c3c3c" textLength="48.6" lengthAdjust="spacingAndGlyphs">240</text>
<text transform="translate(952.9 698.1) rotate(-90)" font-size="38" text-anchor="middle" stroke="#3c3c3c" stroke-width="0.7" letter-spacing="-1.8" fill="#3c3c3c" textLength="16.2" lengthAdjust="spacingAndGlyphs">0</text>
<text transform="translate(952.9 88.6) rotate(-90)" font-size="38" text-anchor="middle" stroke="#3c3c3c" stroke-width="0.7" letter-spacing="-1.8" fill="#3c3c3c" textLength="45.5" lengthAdjust="spacingAndGlyphs">359</text>
<text x="978" y="753.8" font-size="34.3" text-anchor="middle" stroke="#3c3c3c" stroke-width="0.7" letter-spacing="-1.8" fill="#3c3c3c" textLength="16" lengthAdjust="spacingAndGlyphs">0</text>
<text x="1134.3" y="753.8" font-size="34.3" text-anchor="middle" stroke="#3c3c3c" stroke-width="0.7" letter-spacing="-1.8" fill="#3c3c3c" textLength="40.8" lengthAdjust="spacingAndGlyphs">0.8</text>
<text x="1286.7" y="753.8" font-size="34.3" text-anchor="middle" stroke="#3c3c3c" stroke-width="0.7" letter-spacing="-1.8" fill="#3c3c3c" textLength="40.8" lengthAdjust="spacingAndGlyphs">1.6</text>
<text x="1437" y="753.8" font-size="34.3" text-anchor="middle" stroke="#3c3c3c" stroke-width="0.7" letter-spacing="-1.8" fill="#3c3c3c" textLength="40.8" lengthAdjust="spacingAndGlyphs">2.4</text>
<text x="1585" y="753.8" font-size="34.3" text-anchor="middle" stroke="#3c3c3c" stroke-width="0.7" letter-spacing="-1.8" fill="#3c3c3c" textLength="40.8" lengthAdjust="spacingAndGlyphs">3.2</text>
<text y="803" font-size="34.3" fill="#3c3c3c" stroke="#3c3c3c" stroke-width="0.7" letter-spacing="-1.8"><tspan x="1201" textLength="70" lengthAdjust="spacingAndGlyphs">PE-A</tspan><tspan x="1276.8"> (</tspan><tspan x="1298" textLength="32" lengthAdjust="spacingAndGlyphs">10</tspan><tspan x="1336.2" dy="-11.8" font-size="27.4">6</tspan><tspan x="1354" dy="11.8">)</tspan></text>
<text transform="translate(902.8 394.6) rotate(-90)" font-size="38" text-anchor="middle" stroke="#3c3c3c" stroke-width="0.7" letter-spacing="-1.8" fill="#3c3c3c" textLength="76.8" lengthAdjust="spacingAndGlyphs">Count</text>
</g>
<g class="t m">
<text x="1167.8" y="128" font-size="34.3" text-anchor="start" stroke="#3c3c3c" stroke-width="0.7" letter-spacing="-1.8" fill="#3c3c3c" textLength="40.8" lengthAdjust="spacingAndGlyphs" class="m">G1</text>
<text x="1338" y="128" font-size="34.3" text-anchor="start" stroke="#3c3c3c" stroke-width="0.7" letter-spacing="-1.8" fill="#3c3c3c" textLength="41.5" lengthAdjust="spacingAndGlyphs" class="m">G2</text>
</g>
</g>
<g id="p3">
<g fill="none" stroke-linejoin="round">
<path d="M304.2 1030 L305.3 1026.5 L306.5 1030 L308 1097 L305 1097Z" fill="#4a4a4a"/>
<path d="M315.3 1027 L317 1023.5 L320 1023.5 L321.5 1027 L322 1152 L315.6 1152Z" fill="#4a4a4a"/>
<path d="M326 1219 L327.7 1216 L329.5 1219 L331.5 1280 L328 1280Z" fill="#4a4a4a"/>
<path d="M319.5 1292 L322.8 1292 L324.5 1440 L321.8 1440Z" fill="#4a4a4a"/>
<path d="M277.6 1578 L280 1560 L284 1525 L286 1536 L289.6 1466 L293 1450 L296 1300 L297.5 1165" stroke="#1c1c1c" stroke-width="3"/>
<path d="M307 1197 L311 1245 L315.4 1297 L318 1330 L321 1364 L323 1438 L325.5 1300 L327.7 1260" stroke="#1c1c1c" stroke-width="3"/>
<path d="M330.7 1280 L333 1400 L335 1480 L340 1494 L344.9 1498.4 L348.6 1499.6 L351.1 1550.2 L353.6 1523.1 L358.5 1523.1 L361 1549 L364.7 1550.2 L368.4 1577.4 L377 1577.4 L382 1549 L383.2 1496.5 L386.3 1496.5 L387.5 1523.1 L389.4 1550.2 L393.1 1577.4 L398 1577.4 L401.7 1496.5 L404.8 1496.5 L406 1523.1 L409.1 1549 L414.1 1577.4 L419 1577.4 L421.5 1524.3 L428.9 1524.3 L430.1 1550.2 L432.6 1551.5 L435.1 1550.2 L436.3 1524.3 L442.5 1524.3 L446.2 1539.1 L451.1 1550.2 L453.6 1539.1 L456.7 1523.1 L458.5 1539.1 L463.5 1550.2 L465.9 1556.4 L469.6 1577.4 L473.3 1577.4 L477 1550.2 L479.5 1523.1 L482 1539.1 L483.8 1556.4 L486.9 1539.1 L489.4 1523.1 L491.2 1556.4 L492.5 1577.4 L495.6 1556.4 L499.3 1523.1 L504.2 1496.5 L506 1523.1 L508.5 1568.8 L510.4 1577.4 L514.1 1568.8 L517.8 1523.1 L519.6 1550.2 L521.5 1568.8 L524 1577.4 L527.7 1568.8 L532.6 1550.2 L534.4 1568.8 L536.3 1578" stroke="#1c1c1c" stroke-width="3"/>
<path d="M324.5 1209 L325.5 1270 L328 1282 L331 1282 L334 1290 L337.8 1327 L341.5 1382.6 L345.2 1386.3 L347 1410.4 L350.7 1416 L352.6 1456.7 L356.3 1475.2 L358.1 1493.7 L354 1497 L349 1480 L344 1440 L339 1400 L334 1360 L329.5 1310 L326 1290 L323.5 1260Z" fill="#ff00ff"/>
<path d="M276 1578 L279 1560 L283 1525 L287 1480 L291 1420 L294 1340 L295.5 1260 L296.5 1200 L297.5 1166" stroke="#ff00ff" stroke-width="2.6"/>
<path d="M325 1215 L325.5 1270 L328 1282 L331 1282 L334 1290 L337.8 1327 L341.5 1382.6 L345.2 1386.3 L347 1410.4 L350.7 1416 L352.6 1456.7 L356.3 1475.2 L358.5 1494.7 L363.5 1498.4 L365.9 1494.7 L368.4 1467.5 L370.9 1494.7 L373.3 1549 L377 1577.4 L379.5 1577.4 L382 1550.2 L386.9 1524.3 L391.9 1524.3 L394.3 1550.2 L396.2 1496.5 L398 1496.5 L400.5 1550.2 L403 1577.4 L406.7 1577.4 L409.1 1550.2 L411.6 1524.3 L414.1 1507 L416.5 1496.5 L419 1524.3 L420.2 1550.2 L424 1550.2 L426.4 1577.4 L431.4 1577.4 L433.8 1550.2 L435.7 1578" stroke="#ff00ff" stroke-width="2.6"/>
<path d="M442.5 1578 L446.2 1563.8 L451.1 1550.2 L454.8 1550.2 L457.9 1523.1 L461.6 1469.4 L463.5 1519.4 L465.3 1578" stroke="#ff00ff" stroke-width="2.6"/>
</g>
<clipPath id="a3"><path d="M273 1578.4 L273 1576.9 L274.3 1576 L275.7 1574.7 L277 1572.7 L278.4 1569.7 L279.7 1565.6 L281.1 1559.8 L282.4 1552 L283.8 1541.6 L285.1 1528.2 L286.5 1511.2 L287.8 1490.3 L289.1 1465.2 L290.5 1435.9 L291.8 1402.4 L293.2 1365.5 L294.5 1325.9 L295.9 1284.8 L297.2 1243.9 L298.6 1204.9 L299.9 1169.6 L301.3 1139.9 L302.6 1117.3 L304 1103.2 L305.3 1098.4 L306.6 1103.2 L308 1117.3 L309.3 1139.9 L310.7 1169.6 L312 1204.9 L313.4 1243.9 L314.7 1284.8 L316.1 1325.9 L317.4 1365.5 L318.8 1402.4 L320.1 1435.9 L321.4 1465.2 L322.8 1490.3 L324.1 1511.2 L325.5 1528.2 L326.8 1541.6 L328.2 1552 L329.5 1559.8 L330.9 1565.6 L332.2 1569.7 L333.6 1572.7 L334.9 1574.7 L336.3 1576 L337.6 1576.9 L337.6 1578.4Z"/></clipPath>
<g class="m i"><path class="m" d="M273 1578.4 L273 1576.9 L274.3 1576 L275.7 1574.7 L277 1572.7 L278.4 1569.7 L279.7 1565.6 L281.1 1559.8 L282.4 1552 L283.8 1541.6 L285.1 1528.2 L286.5 1511.2 L287.8 1490.3 L289.1 1465.2 L290.5 1435.9 L291.8 1402.4 L293.2 1365.5 L294.5 1325.9 L295.9 1284.8 L297.2 1243.9 L298.6 1204.9 L299.9 1169.6 L301.3 1139.9 L302.6 1117.3 L304 1103.2 L305.3 1098.4 L306.6 1103.2 L308 1117.3 L309.3 1139.9 L310.7 1169.6 L312 1204.9 L313.4 1243.9 L314.7 1284.8 L316.1 1325.9 L317.4 1365.5 L318.8 1402.4 L320.1 1435.9 L321.4 1465.2 L322.8 1490.3 L324.1 1511.2 L325.5 1528.2 L326.8 1541.6 L328.2 1552 L329.5 1559.8 L330.9 1565.6 L332.2 1569.7 L333.6 1572.7 L334.9 1574.7 L336.3 1576 L337.6 1576.9 L337.6 1578.4Z" fill="#10e178"/><path class="m" d="M307 1578 L309 1540 L311 1480 L313 1400 L315 1330 L316.5 1297 L319 1280 L322 1278 L328 1280 L331 1282 L334 1290 L337.8 1327 L341.5 1382.6 L345.2 1386.3 L347 1410.4 L350.7 1416 L352.6 1456.7 L356.3 1475.2 L358.5 1494.7 L363.5 1498.4 L365.9 1494.7 L368.4 1467.5 L370.9 1494.7 L373.3 1549 L377 1550.5 L379.5 1550.5 L382 1550.2 L386.9 1524.3 L391.9 1524.3 L394.3 1550.2 L396.2 1496.5 L398 1496.5 L400.5 1550.2 L403 1550.5 L406.7 1550.5 L409.1 1550.2 L411.6 1524.3 L414.1 1507 L416.5 1496.5 L419 1524.3 L420.2 1550.2 L424 1550.2 L426.4 1550.5 L431.4 1550.5 L433.8 1550.2 L435.7 1550.5 L436 1578Z" fill="#e0e07a" stroke="#e0e07a" stroke-width="3" stroke-linejoin="round"/><path d="M307 1578 L309 1540 L311 1480 L313 1400 L315 1330 L316.5 1297 L319 1280 L322 1278 L328 1280 L331 1282 L334 1290 L337.8 1327 L341.5 1382.6 L345.2 1386.3 L347 1410.4 L350.7 1416 L352.6 1456.7 L356.3 1475.2 L358.5 1494.7 L363.5 1498.4 L365.9 1494.7 L368.4 1467.5 L370.9 1494.7 L373.3 1549 L377 1550.5 L379.5 1550.5 L382 1550.2 L386.9 1524.3 L391.9 1524.3 L394.3 1550.2 L396.2 1496.5 L398 1496.5 L400.5 1550.2 L403 1550.5 L406.7 1550.5 L409.1 1550.2 L411.6 1524.3 L414.1 1507 L416.5 1496.5 L419 1524.3 L420.2 1550.2 L424 1550.2 L426.4 1550.5 L431.4 1550.5 L433.8 1550.2 L435.7 1550.5 L436 1578Z" fill="#00d024" stroke="#00d024" stroke-width="3" stroke-linejoin="round" clip-path="url(#a3)"/><path class="m" d="M303.4 969.4 V1578.6" stroke="#00e050" stroke-width="4.6" fill="none"/><path class="m" d="M458.2 969.4 V1578.6" stroke="#00ffff" stroke-width="4.6" fill="none"/></g>
<g class="i" opacity="0.5"><path class="m" d="M273 1578.4 L273 1576.9 L274.3 1576 L275.7 1574.7 L277 1572.7 L278.4 1569.7 L279.7 1565.6 L281.1 1559.8 L282.4 1552 L283.8 1541.6 L285.1 1528.2 L286.5 1511.2 L287.8 1490.3 L289.1 1465.2 L290.5 1435.9 L291.8 1402.4 L293.2 1365.5 L294.5 1325.9 L295.9 1284.8 L297.2 1243.9 L298.6 1204.9 L299.9 1169.6 L301.3 1139.9 L302.6 1117.3 L304 1103.2 L305.3 1098.4 L306.6 1103.2 L308 1117.3 L309.3 1139.9 L310.7 1169.6 L312 1204.9 L313.4 1243.9 L314.7 1284.8 L316.1 1325.9 L317.4 1365.5 L318.8 1402.4 L320.1 1435.9 L321.4 1465.2 L322.8 1490.3 L324.1 1511.2 L325.5 1528.2 L326.8 1541.6 L328.2 1552 L329.5 1559.8 L330.9 1565.6 L332.2 1569.7 L333.6 1572.7 L334.9 1574.7 L336.3 1576 L337.6 1576.9 L337.6 1578.4Z" fill="#10e178"/><path class="m" d="M307 1578 L309 1540 L311 1480 L313 1400 L315 1330 L316.5 1297 L319 1280 L322 1278 L328 1280 L331 1282 L334 1290 L337.8 1327 L341.5 1382.6 L345.2 1386.3 L347 1410.4 L350.7 1416 L352.6 1456.7 L356.3 1475.2 L358.5 1494.7 L363.5 1498.4 L365.9 1494.7 L368.4 1467.5 L370.9 1494.7 L373.3 1549 L377 1550.5 L379.5 1550.5 L382 1550.2 L386.9 1524.3 L391.9 1524.3 L394.3 1550.2 L396.2 1496.5 L398 1496.5 L400.5 1550.2 L403 1550.5 L406.7 1550.5 L409.1 1550.2 L411.6 1524.3 L414.1 1507 L416.5 1496.5 L419 1524.3 L420.2 1550.2 L424 1550.2 L426.4 1550.5 L431.4 1550.5 L433.8 1550.2 L435.7 1550.5 L436 1578Z" fill="#e0e07a" stroke="#e0e07a" stroke-width="3" stroke-linejoin="round"/><path d="M307 1578 L309 1540 L311 1480 L313 1400 L315 1330 L316.5 1297 L319 1280 L322 1278 L328 1280 L331 1282 L334 1290 L337.8 1327 L341.5 1382.6 L345.2 1386.3 L347 1410.4 L350.7 1416 L352.6 1456.7 L356.3 1475.2 L358.5 1494.7 L363.5 1498.4 L365.9 1494.7 L368.4 1467.5 L370.9 1494.7 L373.3 1549 L377 1550.5 L379.5 1550.5 L382 1550.2 L386.9 1524.3 L391.9 1524.3 L394.3 1550.2 L396.2 1496.5 L398 1496.5 L400.5 1550.2 L403 1550.5 L406.7 1550.5 L409.1 1550.2 L411.6 1524.3 L414.1 1507 L416.5 1496.5 L419 1524.3 L420.2 1550.2 L424 1550.2 L426.4 1550.5 L431.4 1550.5 L433.8 1550.2 L435.7 1550.5 L436 1578Z" fill="#00d024" stroke="#00d024" stroke-width="3" stroke-linejoin="round" clip-path="url(#a3)"/><path class="m" d="M303.4 969.4 V1578.6" stroke="#00e050" stroke-width="4.6" fill="none"/><path class="m" d="M458.2 969.4 V1578.6" stroke="#00ffff" stroke-width="4.6" fill="none"/></g>
<path d="M306.8 1098 L308.2 1098 L311.8 1153 L312 1164 L307 1164 L305.3 1153Z" fill="#ff00ff"/>
<path d="M315.4 1152 L324.6 1152 L324.4 1209 L321 1216 L318.9 1256 L315 1259 L310.8 1256 L311.6 1200 L312 1163Z" fill="#ff00ff"/>
<path d="M307 1163 L316.5 1163 L316.5 1176 L313 1197 L307 1197Z" fill="#8a008a"/>
<path d="M296 1163 L300.6 1163 L300.6 1200 L299.6 1250 L298.2 1300 L296.2 1349 L293.5 1349 L294.5 1300 L295.5 1250Z" fill="#b040b0"/>
<path class="m" d="M303.4 969.4 V1578.6" stroke="#00e050" stroke-width="4.6" fill="none"/>
<g stroke="#3a3a3a" fill="none">
<path d="M96.8 968.4 H723.3 V1591.6" stroke-width="3.6" stroke-linejoin="round"/>
<path d="M109.3 968.4 V1592.1 M96.8 1579.6 H723.3" stroke-width="3.6"/>
<path d="M117.5 1579.6 V1592.1M270 1579.6 V1592.1M420.2 1579.6 V1592.1M570.4 1579.6 V1592.1M109.3 1440.8 H96.8M109.3 1302.3 H96.8M109.3 1163.8 H96.8M109.3 1025.3 H96.8" stroke-width="3.3"/>
<path d="M149.8 1579.6 V1586.6M179.9 1579.6 V1586.6M209.9 1579.6 V1586.6M240 1579.6 V1586.6M300 1579.6 V1586.6M330.1 1579.6 V1586.6M360.1 1579.6 V1586.6M390.2 1579.6 V1586.6M450.2 1579.6 V1586.6M480.3 1579.6 V1586.6M510.3 1579.6 V1586.6M540.4 1579.6 V1586.6M600.4 1579.6 V1586.6M630.5 1579.6 V1586.6M660.5 1579.6 V1586.6M690.6 1579.6 V1586.6M109.3 1551.6 H102.5M109.3 1523.9 H102.5M109.3 1496.2 H102.5M109.3 1468.5 H102.5M109.3 1413.1 H102.5M109.3 1385.4 H102.5M109.3 1357.7 H102.5M109.3 1330 H102.5M109.3 1274.6 H102.5M109.3 1246.9 H102.5M109.3 1219.2 H102.5M109.3 1191.5 H102.5M109.3 1136.1 H102.5M109.3 1108.4 H102.5M109.3 1080.7 H102.5M109.3 1053 H102.5M109.3 997.6 H102.5M109.3 1579.3 H102.5M109.3 968.5 H102.5" stroke-width="2.6" stroke="#8a8a8a"/>
</g>
<g class="t">
<text transform="translate(85 1438.3) rotate(-90)" font-size="38" text-anchor="middle" stroke="#3c3c3c" stroke-width="0.7" letter-spacing="-1.8" fill="#3c3c3c" textLength="32.4" lengthAdjust="spacingAndGlyphs">10</text>
<text transform="translate(85 1299.8) rotate(-90)" font-size="38" text-anchor="middle" stroke="#3c3c3c" stroke-width="0.7" letter-spacing="-1.8" fill="#3c3c3c" textLength="32.4" lengthAdjust="spacingAndGlyphs">20</text>
<text transform="translate(85 1161.3) rotate(-90)" font-size="38" text-anchor="middle" stroke="#3c3c3c" stroke-width="0.7" letter-spacing="-1.8" fill="#3c3c3c" textLength="32.4" lengthAdjust="spacingAndGlyphs">30</text>
<text transform="translate(85 1022.8) rotate(-90)" font-size="38" text-anchor="middle" stroke="#3c3c3c" stroke-width="0.7" letter-spacing="-1.8" fill="#3c3c3c" textLength="32.4" lengthAdjust="spacingAndGlyphs">40</text>
<text transform="translate(85 1576.8) rotate(-90)" font-size="38" text-anchor="middle" stroke="#3c3c3c" stroke-width="0.7" letter-spacing="-1.8" fill="#3c3c3c" textLength="16.2" lengthAdjust="spacingAndGlyphs">0</text>
<text transform="translate(85 968.5) rotate(-90)" font-size="38" text-anchor="middle" stroke="#3c3c3c" stroke-width="0.7" letter-spacing="-1.8" fill="#3c3c3c" textLength="32.4" lengthAdjust="spacingAndGlyphs">44</text>
<text x="109.7" y="1633.1" font-size="34.3" text-anchor="middle" stroke="#3c3c3c" stroke-width="0.7" letter-spacing="-1.8" fill="#3c3c3c" textLength="16" lengthAdjust="spacingAndGlyphs">0</text>
<text x="266.3" y="1633.1" font-size="34.3" text-anchor="middle" stroke="#3c3c3c" stroke-width="0.7" letter-spacing="-1.8" fill="#3c3c3c" textLength="40.8" lengthAdjust="spacingAndGlyphs">0.8</text>
<text x="418.7" y="1633.1" font-size="34.3" text-anchor="middle" stroke="#3c3c3c" stroke-width="0.7" letter-spacing="-1.8" fill="#3c3c3c" textLength="40.8" lengthAdjust="spacingAndGlyphs">1.6</text>
<text x="569" y="1633.1" font-size="34.3" text-anchor="middle" stroke="#3c3c3c" stroke-width="0.7" letter-spacing="-1.8" fill="#3c3c3c" textLength="40.8" lengthAdjust="spacingAndGlyphs">2.4</text>
<text x="717" y="1633.1" font-size="34.3" text-anchor="middle" stroke="#3c3c3c" stroke-width="0.7" letter-spacing="-1.8" fill="#3c3c3c" textLength="40.8" lengthAdjust="spacingAndGlyphs">3.2</text>
<text y="1682" font-size="34.3" fill="#3c3c3c" stroke="#3c3c3c" stroke-width="0.7" letter-spacing="-1.8"><tspan x="333" textLength="70" lengthAdjust="spacingAndGlyphs">PE-A</tspan><tspan x="408.8"> (</tspan><tspan x="430" textLength="32" lengthAdjust="spacingAndGlyphs">10</tspan><tspan x="468.2" dy="-11.8" font-size="27.4">6</tspan><tspan x="486" dy="11.8">)</tspan></text>
<text transform="translate(34.8 1273.4) rotate(-90)" font-size="38" text-anchor="middle" stroke="#3c3c3c" stroke-width="0.7" letter-spacing="-1.8" fill="#3c3c3c" textLength="76.8" lengthAdjust="spacingAndGlyphs">Count</text>
</g>
<g class="t m">
<text x="290.2" y="1007.6" font-size="34.3" text-anchor="start" stroke="#3c3c3c" stroke-width="0.7" letter-spacing="-1.8" fill="#3c3c3c" textLength="40.8" lengthAdjust="spacingAndGlyphs" class="m">G1</text>
<text x="444.8" y="1007.6" font-size="34.3" text-anchor="start" stroke="#3c3c3c" stroke-width="0.7" letter-spacing="-1.8" fill="#3c3c3c" textLength="41.5" lengthAdjust="spacingAndGlyphs" class="m">G2</text>
</g>
</g>
<g id="p4">
<g fill="none" stroke-linejoin="round">
<path d="M1181.3 1021 L1184.5 1040 L1186.5 1075 L1188.3 1116 L1184 1118 L1181.5 1100 L1180.5 1060Z" fill="#4a4a4a"/>
<path d="M1146 1578 L1147.8 1577 L1150.6 1530.7 L1152.4 1475 L1155.2 1419.6 L1157 1401 L1157 1360.4 L1162.5 1345.6 L1163 1308.5 L1164.5 1259 L1167.5 1240.7 L1170 1185 L1172.8 1166.7 L1175 1129.6 L1175.5 1092.6 L1178 1088.9 L1179.8 1055.6 L1181.3 1021.3 L1183.9 1037 L1185.7 1074 L1187.6 1114.8 L1188.5 1148 L1191.3 1185 L1193.1 1213 L1195.9 1209.3 L1197.8 1240.7 L1200.6 1277.8 L1201.5 1300 L1203.3 1332.6 L1207 1345.6 L1208 1386.3 L1210.7 1380.7 L1216.3 1397.4 L1216.3 1438 L1218.1 1475 L1219 1510 L1223.7 1480.7 L1227.4 1479 L1230.6 1465 L1233.9 1503 L1235.7 1536 L1238.5 1512 L1242.2 1547.4 L1245.9 1521.5 L1253.3 1538.1 L1262.6 1517.8 L1268.1 1536.3 L1271.9 1538 L1277.4 1536.3 L1282 1499.3 L1284.8 1549.3 L1288.5 1556.7 L1294.1 1549.3 L1300.6 1525.2 L1305.2 1545.6 L1309.8 1510.4 L1313.5 1536.3 L1318.1 1530.7 L1323.7 1516 L1327.4 1530.7 L1333.9 1504.8 L1338.5 1525.2 L1345 1527 L1350.6 1495.6 L1355.2 1528.9 L1360.7 1536.3 L1367.2 1512.2 L1370 1545.6 L1379.3 1564 L1384.8 1567.8 L1386.7 1551 L1390.4 1564 L1394.1 1562.2 L1397.8 1567.8 L1403.3 1575.2 L1406 1578" stroke="#1c1c1c" stroke-width="2.4"/>
<path d="M1131.9 1576.6 L1132.5 1576.4 L1133.1 1576.1 L1133.7 1575.8 L1134.3 1575.4 L1135 1575 L1135.6 1574.6 L1136.3 1574 L1136.9 1573.4 L1137.6 1572.7 L1138.3 1571.8 L1138.9 1570.9 L1139.6 1569.7 L1140.3 1568.4 L1141 1567 L1141.8 1565.2 L1142.5 1563.3 L1143.3 1561 L1144 1558.4 L1144.8 1555.3 L1145.6 1551.8 L1146.4 1547.8 L1147.2 1543.1 L1148.1 1537.7 L1148.9 1531.5 L1149.8 1524.3 L1150.7 1516 L1151.7 1506.4 L1152.6 1495.4 L1153.7 1482.7 L1154.7 1468 L1155.8 1451 L1157 1431.5 L1158.3 1408.9 L1159.7 1382.9 L1161.2 1352.8 L1162.9 1318.1 L1165 1278.1 L1167.5 1231.9 L1171 1178.6 L1176 1124 L1180 1117.5 L1183.9 1119 L1187.6 1129.6 L1189.4 1166.7 L1191.3 1185 L1194 1240.7 L1197.8 1277.8 L1200 1295 L1202.4 1336.3 L1205.2 1382.6 L1208 1410.4 L1212.6 1408.5 L1215.4 1438 L1216.3 1475 L1218.1 1512 L1223.7 1482.6 L1227.4 1484.4 L1231.1 1467.8 L1234.8 1512.2 L1238.5 1508.5 L1242.2 1547.4 L1245.9 1521.5 L1253.3 1538.1 L1262.6 1519.6 L1268.1 1536.3 L1271.9 1547.4 L1277.4 1538.1 L1283 1503 L1286.7 1556.7 L1294.1 1553 L1301.5 1530.7 L1305.2 1549.3 L1310 1540 L1314.5 1545 L1320 1535 L1326 1538 L1332 1530 L1338 1527 L1344 1525 L1348 1524.5 L1354.7 1527.2 L1356.4 1528.8 L1358.1 1530.8 L1359.8 1533 L1361.5 1535.4 L1363.2 1538 L1364.9 1540.7 L1366.7 1543.5 L1368.4 1546.3 L1370.1 1549.1 L1371.8 1551.8 L1373.5 1554.5 L1375.2 1557 L1376.9 1559.4 L1378.7 1561.7 L1380.4 1563.8 L1382.1 1565.7 L1383.8 1567.4 L1385.5 1569 L1387.2 1570.4 L1388.9 1571.6 L1390.7 1572.7 L1392.4 1573.6 L1394.1 1574.4 L1395.8 1575.1 L1397.5 1575.6 L1399.2 1576.1 L1400.9 1576.5 L1402.7 1576.8 L1404.4 1577.1 L1406.1 1577.3 L1407.8 1577.5" stroke="#ff00ff" stroke-width="2.3"/>
</g>
<clipPath id="a4"><path d="M1129.9 1578.1 L1131.9 1576.6 L1132.5 1576.4 L1133.1 1576.1 L1133.7 1575.8 L1134.3 1575.4 L1135 1575 L1135.6 1574.6 L1136.3 1574 L1136.9 1573.4 L1137.6 1572.7 L1138.3 1571.8 L1138.9 1570.9 L1139.6 1569.7 L1140.3 1568.4 L1141 1567 L1141.8 1565.2 L1142.5 1563.3 L1143.3 1561 L1144 1558.4 L1144.8 1555.3 L1145.6 1551.8 L1146.4 1547.8 L1147.2 1543.1 L1148.1 1537.7 L1148.9 1531.5 L1149.8 1524.3 L1150.7 1516 L1151.7 1506.4 L1152.6 1495.4 L1153.7 1482.7 L1154.7 1468 L1155.8 1451 L1157 1431.5 L1158.3 1408.9 L1159.7 1382.9 L1161.2 1352.8 L1162.9 1318.1 L1165 1278.1 L1167.5 1231.9 L1171 1178.6 L1180 1117.1 L1189 1178.6 L1192.5 1231.9 L1195 1278.1 L1197.1 1318.1 L1198.8 1352.8 L1200.3 1382.9 L1201.7 1408.9 L1203 1431.5 L1204.2 1451 L1205.3 1468 L1206.3 1482.7 L1207.4 1495.4 L1208.3 1506.4 L1209.3 1516 L1210.2 1524.3 L1211.1 1531.5 L1211.9 1537.7 L1212.8 1543.1 L1213.6 1547.8 L1214.4 1551.8 L1215.2 1555.3 L1216 1558.4 L1216.7 1561 L1217.5 1563.3 L1218.2 1565.2 L1219 1567 L1219.7 1568.4 L1220.4 1569.7 L1221.1 1570.9 L1221.7 1571.8 L1222.4 1572.7 L1223.1 1573.4 L1223.7 1574 L1224.4 1574.6 L1225 1575 L1225.7 1575.4 L1226.3 1575.8 L1226.9 1576.1 L1227.5 1576.4 L1228.1 1576.6 L1230.1 1578.1Z"/></clipPath>
<clipPath id="c4"><path d="M1287.8 1578.1 L1287.8 1577.5 L1290.3 1577.2 L1292.8 1576.9 L1295.3 1576.4 L1297.8 1575.7 L1300.3 1574.9 L1302.8 1573.8 L1305.3 1572.5 L1307.8 1570.8 L1310.3 1568.8 L1312.8 1566.4 L1315.3 1563.7 L1317.8 1560.6 L1320.3 1557.1 L1322.8 1553.4 L1325.3 1549.4 L1327.8 1545.3 L1330.3 1541.3 L1332.8 1537.3 L1335.3 1533.7 L1337.8 1530.4 L1340.3 1527.8 L1342.8 1525.8 L1345.3 1524.5 L1347.8 1524.1 L1350.3 1524.5 L1352.8 1525.8 L1355.3 1527.8 L1357.8 1530.4 L1360.3 1533.7 L1362.8 1537.3 L1365.3 1541.3 L1367.8 1545.3 L1370.3 1549.4 L1372.8 1553.4 L1375.3 1557.1 L1377.8 1560.6 L1380.3 1563.7 L1382.8 1566.4 L1385.3 1568.8 L1387.8 1570.8 L1390.3 1572.5 L1392.8 1573.8 L1395.3 1574.9 L1397.8 1575.7 L1400.3 1576.4 L1402.8 1576.9 L1405.3 1577.2 L1407.8 1577.5 L1407.8 1578.1Z"/></clipPath>
<g class="m i"><path class="m" d="M1129.9 1578.1 L1131.9 1576.6 L1132.5 1576.4 L1133.1 1576.1 L1133.7 1575.8 L1134.3 1575.4 L1135 1575 L1135.6 1574.6 L1136.3 1574 L1136.9 1573.4 L1137.6 1572.7 L1138.3 1571.8 L1138.9 1570.9 L1139.6 1569.7 L1140.3 1568.4 L1141 1567 L1141.8 1565.2 L1142.5 1563.3 L1143.3 1561 L1144 1558.4 L1144.8 1555.3 L1145.6 1551.8 L1146.4 1547.8 L1147.2 1543.1 L1148.1 1537.7 L1148.9 1531.5 L1149.8 1524.3 L1150.7 1516 L1151.7 1506.4 L1152.6 1495.4 L1153.7 1482.7 L1154.7 1468 L1155.8 1451 L1157 1431.5 L1158.3 1408.9 L1159.7 1382.9 L1161.2 1352.8 L1162.9 1318.1 L1165 1278.1 L1167.5 1231.9 L1171 1178.6 L1180 1117.1 L1189 1178.6 L1192.5 1231.9 L1195 1278.1 L1197.1 1318.1 L1198.8 1352.8 L1200.3 1382.9 L1201.7 1408.9 L1203 1431.5 L1204.2 1451 L1205.3 1468 L1206.3 1482.7 L1207.4 1495.4 L1208.3 1506.4 L1209.3 1516 L1210.2 1524.3 L1211.1 1531.5 L1211.9 1537.7 L1212.8 1543.1 L1213.6 1547.8 L1214.4 1551.8 L1215.2 1555.3 L1216 1558.4 L1216.7 1561 L1217.5 1563.3 L1218.2 1565.2 L1219 1567 L1219.7 1568.4 L1220.4 1569.7 L1221.1 1570.9 L1221.7 1571.8 L1222.4 1572.7 L1223.1 1573.4 L1223.7 1574 L1224.4 1574.6 L1225 1575 L1225.7 1575.4 L1226.3 1575.8 L1226.9 1576.1 L1227.5 1576.4 L1228.1 1576.6 L1230.1 1578.1Z" fill="#10e178"/><path class="m" d="M1174 1578 L1181 1549 L1188.5 1521 L1194 1484 L1199.6 1453 L1205 1440 L1212.6 1434.4 L1216.3 1475 L1218.1 1512 L1223.7 1482.6 L1227.4 1484.4 L1231.1 1467.8 L1234.8 1512.2 L1238.5 1508.5 L1242.2 1547.4 L1245.9 1521.5 L1253.3 1538.1 L1262.6 1519.6 L1268.1 1536.3 L1271.9 1547.4 L1277.4 1538.1 L1283 1503 L1286.7 1556.7 L1294.1 1553 L1301.5 1530.7 L1305.2 1549.3 L1312.6 1553 L1320 1562 L1328 1570 L1336 1575 L1346 1578Z" fill="#e0e07a" stroke="#e0e07a" stroke-width="3" stroke-linejoin="round"/><path d="M1174 1578 L1181 1549 L1188.5 1521 L1194 1484 L1199.6 1453 L1205 1440 L1212.6 1434.4 L1216.3 1475 L1218.1 1512 L1223.7 1482.6 L1227.4 1484.4 L1231.1 1467.8 L1234.8 1512.2 L1238.5 1508.5 L1242.2 1547.4 L1245.9 1521.5 L1253.3 1538.1 L1262.6 1519.6 L1268.1 1536.3 L1271.9 1547.4 L1277.4 1538.1 L1283 1503 L1286.7 1556.7 L1294.1 1553 L1301.5 1530.7 L1305.2 1549.3 L1312.6 1553 L1320 1562 L1328 1570 L1336 1575 L1346 1578Z" fill="#00d024" stroke="#00d024" stroke-width="3" stroke-linejoin="round" clip-path="url(#a4)"/><path class="m" d="M1287.8 1578.1 L1287.8 1577.5 L1290.3 1577.2 L1292.8 1576.9 L1295.3 1576.4 L1297.8 1575.7 L1300.3 1574.9 L1302.8 1573.8 L1305.3 1572.5 L1307.8 1570.8 L1310.3 1568.8 L1312.8 1566.4 L1315.3 1563.7 L1317.8 1560.6 L1320.3 1557.1 L1322.8 1553.4 L1325.3 1549.4 L1327.8 1545.3 L1330.3 1541.3 L1332.8 1537.3 L1335.3 1533.7 L1337.8 1530.4 L1340.3 1527.8 L1342.8 1525.8 L1345.3 1524.5 L1347.8 1524.1 L1350.3 1524.5 L1352.8 1525.8 L1355.3 1527.8 L1357.8 1530.4 L1360.3 1533.7 L1362.8 1537.3 L1365.3 1541.3 L1367.8 1545.3 L1370.3 1549.4 L1372.8 1553.4 L1375.3 1557.1 L1377.8 1560.6 L1380.3 1563.7 L1382.8 1566.4 L1385.3 1568.8 L1387.8 1570.8 L1390.3 1572.5 L1392.8 1573.8 L1395.3 1574.9 L1397.8 1575.7 L1400.3 1576.4 L1402.8 1576.9 L1405.3 1577.2 L1407.8 1577.5 L1407.8 1578.1Z" fill="#00ffff" stroke="#00ffff" stroke-width="2" stroke-linejoin="round"/><path d="M1174 1578 L1181 1549 L1188.5 1521 L1194 1484 L1199.6 1453 L1205 1440 L1212.6 1434.4 L1216.3 1475 L1218.1 1512 L1223.7 1482.6 L1227.4 1484.4 L1231.1 1467.8 L1234.8 1512.2 L1238.5 1508.5 L1242.2 1547.4 L1245.9 1521.5 L1253.3 1538.1 L1262.6 1519.6 L1268.1 1536.3 L1271.9 1547.4 L1277.4 1538.1 L1283 1503 L1286.7 1556.7 L1294.1 1553 L1301.5 1530.7 L1305.2 1549.3 L1312.6 1553 L1320 1562 L1328 1570 L1336 1575 L1346 1578Z" fill="#00ecb0" stroke="#00ecb0" stroke-width="3" stroke-linejoin="round" clip-path="url(#c4)"/><path class="m" d="M1179.1 969.4 V1578.3" stroke="#00e050" stroke-width="4.6" fill="none"/><path class="m" d="M1348.1 969.4 V1578.3" stroke="#00ffff" stroke-width="4.6" fill="none"/></g>
<g class="i" opacity="0.5"><path class="m" d="M1129.9 1578.1 L1131.9 1576.6 L1132.5 1576.4 L1133.1 1576.1 L1133.7 1575.8 L1134.3 1575.4 L1135 1575 L1135.6 1574.6 L1136.3 1574 L1136.9 1573.4 L1137.6 1572.7 L1138.3 1571.8 L1138.9 1570.9 L1139.6 1569.7 L1140.3 1568.4 L1141 1567 L1141.8 1565.2 L1142.5 1563.3 L1143.3 1561 L1144 1558.4 L1144.8 1555.3 L1145.6 1551.8 L1146.4 1547.8 L1147.2 1543.1 L1148.1 1537.7 L1148.9 1531.5 L1149.8 1524.3 L1150.7 1516 L1151.7 1506.4 L1152.6 1495.4 L1153.7 1482.7 L1154.7 1468 L1155.8 1451 L1157 1431.5 L1158.3 1408.9 L1159.7 1382.9 L1161.2 1352.8 L1162.9 1318.1 L1165 1278.1 L1167.5 1231.9 L1171 1178.6 L1180 1117.1 L1189 1178.6 L1192.5 1231.9 L1195 1278.1 L1197.1 1318.1 L1198.8 1352.8 L1200.3 1382.9 L1201.7 1408.9 L1203 1431.5 L1204.2 1451 L1205.3 1468 L1206.3 1482.7 L1207.4 1495.4 L1208.3 1506.4 L1209.3 1516 L1210.2 1524.3 L1211.1 1531.5 L1211.9 1537.7 L1212.8 1543.1 L1213.6 1547.8 L1214.4 1551.8 L1215.2 1555.3 L1216 1558.4 L1216.7 1561 L1217.5 1563.3 L1218.2 1565.2 L1219 1567 L1219.7 1568.4 L1220.4 1569.7 L1221.1 1570.9 L1221.7 1571.8 L1222.4 1572.7 L1223.1 1573.4 L1223.7 1574 L1224.4 1574.6 L1225 1575 L1225.7 1575.4 L1226.3 1575.8 L1226.9 1576.1 L1227.5 1576.4 L1228.1 1576.6 L1230.1 1578.1Z" fill="#10e178"/><path class="m" d="M1174 1578 L1181 1549 L1188.5 1521 L1194 1484 L1199.6 1453 L1205 1440 L1212.6 1434.4 L1216.3 1475 L1218.1 1512 L1223.7 1482.6 L1227.4 1484.4 L1231.1 1467.8 L1234.8 1512.2 L1238.5 1508.5 L1242.2 1547.4 L1245.9 1521.5 L1253.3 1538.1 L1262.6 1519.6 L1268.1 1536.3 L1271.9 1547.4 L1277.4 1538.1 L1283 1503 L1286.7 1556.7 L1294.1 1553 L1301.5 1530.7 L1305.2 1549.3 L1312.6 1553 L1320 1562 L1328 1570 L1336 1575 L1346 1578Z" fill="#e0e07a" stroke="#e0e07a" stroke-width="3" stroke-linejoin="round"/><path d="M1174 1578 L1181 1549 L1188.5 1521 L1194 1484 L1199.6 1453 L1205 1440 L1212.6 1434.4 L1216.3 1475 L1218.1 1512 L1223.7 1482.6 L1227.4 1484.4 L1231.1 1467.8 L1234.8 1512.2 L1238.5 1508.5 L1242.2 1547.4 L1245.9 1521.5 L1253.3 1538.1 L1262.6 1519.6 L1268.1 1536.3 L1271.9 1547.4 L1277.4 1538.1 L1283 1503 L1286.7 1556.7 L1294.1 1553 L1301.5 1530.7 L1305.2 1549.3 L1312.6 1553 L1320 1562 L1328 1570 L1336 1575 L1346 1578Z" fill="#00d024" stroke="#00d024" stroke-width="3" stroke-linejoin="round" clip-path="url(#a4)"/><path class="m" d="M1287.8 1578.1 L1287.8 1577.5 L1290.3 1577.2 L1292.8 1576.9 L1295.3 1576.4 L1297.8 1575.7 L1300.3 1574.9 L1302.8 1573.8 L1305.3 1572.5 L1307.8 1570.8 L1310.3 1568.8 L1312.8 1566.4 L1315.3 1563.7 L1317.8 1560.6 L1320.3 1557.1 L1322.8 1553.4 L1325.3 1549.4 L1327.8 1545.3 L1330.3 1541.3 L1332.8 1537.3 L1335.3 1533.7 L1337.8 1530.4 L1340.3 1527.8 L1342.8 1525.8 L1345.3 1524.5 L1347.8 1524.1 L1350.3 1524.5 L1352.8 1525.8 L1355.3 1527.8 L1357.8 1530.4 L1360.3 1533.7 L1362.8 1537.3 L1365.3 1541.3 L1367.8 1545.3 L1370.3 1549.4 L1372.8 1553.4 L1375.3 1557.1 L1377.8 1560.6 L1380.3 1563.7 L1382.8 1566.4 L1385.3 1568.8 L1387.8 1570.8 L1390.3 1572.5 L1392.8 1573.8 L1395.3 1574.9 L1397.8 1575.7 L1400.3 1576.4 L1402.8 1576.9 L1405.3 1577.2 L1407.8 1577.5 L1407.8 1578.1Z" fill="#00ffff" stroke="#00ffff" stroke-width="2" stroke-linejoin="round"/><path d="M1174 1578 L1181 1549 L1188.5 1521 L1194 1484 L1199.6 1453 L1205 1440 L1212.6 1434.4 L1216.3 1475 L1218.1 1512 L1223.7 1482.6 L1227.4 1484.4 L1231.1 1467.8 L1234.8 1512.2 L1238.5 1508.5 L1242.2 1547.4 L1245.9 1521.5 L1253.3 1538.1 L1262.6 1519.6 L1268.1 1536.3 L1271.9 1547.4 L1277.4 1538.1 L1283 1503 L1286.7 1556.7 L1294.1 1553 L1301.5 1530.7 L1305.2 1549.3 L1312.6 1553 L1320 1562 L1328 1570 L1336 1575 L1346 1578Z" fill="#00ecb0" stroke="#00ecb0" stroke-width="3" stroke-linejoin="round" clip-path="url(#c4)"/><path class="m" d="M1179.1 969.4 V1578.3" stroke="#00e050" stroke-width="4.6" fill="none"/><path class="m" d="M1348.1 969.4 V1578.3" stroke="#00ffff" stroke-width="4.6" fill="none"/></g>
<g stroke="#3a3a3a" fill="none">
<path d="M964.8 968.4 H1591 V1591.3" stroke-width="3.6" stroke-linejoin="round"/>
<path d="M977.3 968.4 V1591.8 M964.8 1579.3 H1591" stroke-width="3.6"/>
<path d="M985.5 1579.3 V1591.8M1138 1579.3 V1591.8M1288.2 1579.3 V1591.8M1438.4 1579.3 V1591.8M977.3 1467.4 H964.8M977.3 1357.8 H964.8M977.3 1246.7 H964.8M977.3 1137.3 H964.8M977.3 1025.5 H964.8" stroke-width="3.3"/>
<path d="M1017.8 1579.3 V1586.3M1047.9 1579.3 V1586.3M1077.9 1579.3 V1586.3M1108 1579.3 V1586.3M1168 1579.3 V1586.3M1198.1 1579.3 V1586.3M1228.1 1579.3 V1586.3M1258.2 1579.3 V1586.3M1318.2 1579.3 V1586.3M1348.3 1579.3 V1586.3M1378.3 1579.3 V1586.3M1408.4 1579.3 V1586.3M1468.4 1579.3 V1586.3M1498.5 1579.3 V1586.3M1528.5 1579.3 V1586.3M1558.6 1579.3 V1586.3M977.3 1556.4 H970.5M977.3 1534.3 H970.5M977.3 1512.1 H970.5M977.3 1490 H970.5M977.3 1445.8 H970.5M977.3 1423.7 H970.5M977.3 1401.5 H970.5M977.3 1379.4 H970.5M977.3 1335.2 H970.5M977.3 1313.1 H970.5M977.3 1290.9 H970.5M977.3 1268.8 H970.5M977.3 1224.6 H970.5M977.3 1202.5 H970.5M977.3 1180.3 H970.5M977.3 1158.2 H970.5M977.3 1114 H970.5M977.3 1091.9 H970.5M977.3 1069.7 H970.5M977.3 1047.6 H970.5M977.3 1003.4 H970.5M977.3 981.3 H970.5M977.3 1578.5 H970.5M977.3 968.2 H970.5" stroke-width="2.6" stroke="#8a8a8a"/>
</g>
<g class="t">
<text transform="translate(953 1466.5) rotate(-90)" font-size="38" text-anchor="middle" stroke="#3c3c3c" stroke-width="0.7" letter-spacing="-1.8" fill="#3c3c3c" textLength="32.4" lengthAdjust="spacingAndGlyphs">10</text>
<text transform="translate(953 1355) rotate(-90)" font-size="38" text-anchor="middle" stroke="#3c3c3c" stroke-width="0.7" letter-spacing="-1.8" fill="#3c3c3c" textLength="32.4" lengthAdjust="spacingAndGlyphs">20</text>
<text transform="translate(953 1245.6) rotate(-90)" font-size="38" text-anchor="middle" stroke="#3c3c3c" stroke-width="0.7" letter-spacing="-1.8" fill="#3c3c3c" textLength="32.4" lengthAdjust="spacingAndGlyphs">30</text>
<text transform="translate(953 1134.4) rotate(-90)" font-size="38" text-anchor="middle" stroke="#3c3c3c" stroke-width="0.7" letter-spacing="-1.8" fill="#3c3c3c" textLength="32.4" lengthAdjust="spacingAndGlyphs">40</text>
<text transform="translate(953 1023) rotate(-90)" font-size="38" text-anchor="middle" stroke="#3c3c3c" stroke-width="0.7" letter-spacing="-1.8" fill="#3c3c3c" textLength="32.4" lengthAdjust="spacingAndGlyphs">50</text>
<text transform="translate(953 1576) rotate(-90)" font-size="38" text-anchor="middle" stroke="#3c3c3c" stroke-width="0.7" letter-spacing="-1.8" fill="#3c3c3c" textLength="16.2" lengthAdjust="spacingAndGlyphs">0</text>
<text transform="translate(953 968.2) rotate(-90)" font-size="38" text-anchor="middle" stroke="#3c3c3c" stroke-width="0.7" letter-spacing="-1.8" fill="#3c3c3c" textLength="32.4" lengthAdjust="spacingAndGlyphs">55</text>
<text x="978" y="1632.8" font-size="34.3" text-anchor="middle" stroke="#3c3c3c" stroke-width="0.7" letter-spacing="-1.8" fill="#3c3c3c" textLength="16" lengthAdjust="spacingAndGlyphs">0</text>
<text x="1134.3" y="1632.8" font-size="34.3" text-anchor="middle" stroke="#3c3c3c" stroke-width="0.7" letter-spacing="-1.8" fill="#3c3c3c" textLength="40.8" lengthAdjust="spacingAndGlyphs">0.8</text>
<text x="1286.7" y="1632.8" font-size="34.3" text-anchor="middle" stroke="#3c3c3c" stroke-width="0.7" letter-spacing="-1.8" fill="#3c3c3c" textLength="40.8" lengthAdjust="spacingAndGlyphs">1.6</text>
<text x="1437" y="1632.8" font-size="34.3" text-anchor="middle" stroke="#3c3c3c" stroke-width="0.7" letter-spacing="-1.8" fill="#3c3c3c" textLength="40.8" lengthAdjust="spacingAndGlyphs">2.4</text>
<text x="1585" y="1632.8" font-size="34.3" text-anchor="middle" stroke="#3c3c3c" stroke-width="0.7" letter-spacing="-1.8" fill="#3c3c3c" textLength="40.8" lengthAdjust="spacingAndGlyphs">3.2</text>
<text y="1682" font-size="34.3" fill="#3c3c3c" stroke="#3c3c3c" stroke-width="0.7" letter-spacing="-1.8"><tspan x="1201" textLength="70" lengthAdjust="spacingAndGlyphs">PE-A</tspan><tspan x="1276.8"> (</tspan><tspan x="1298" textLength="32" lengthAdjust="spacingAndGlyphs">10</tspan><tspan x="1336.2" dy="-11.8" font-size="27.4">6</tspan><tspan x="1354" dy="11.8">)</tspan></text>
<text transform="translate(902.8 1273.4) rotate(-90)" font-size="38" text-anchor="middle" stroke="#3c3c3c" stroke-width="0.7" letter-spacing="-1.8" fill="#3c3c3c" textLength="76.8" lengthAdjust="spacingAndGlyphs">Count</text>
</g>
<g class="t m">
<text x="1164.3" y="1007.4" font-size="34.3" text-anchor="start" stroke="#3c3c3c" stroke-width="0.7" letter-spacing="-1.8" fill="#3c3c3c" textLength="40.8" lengthAdjust="spacingAndGlyphs" class="m">G1</text>
<text x="1334.3" y="1007.4" font-size="34.3" text-anchor="start" stroke="#3c3c3c" stroke-width="0.7" letter-spacing="-1.8" fill="#3c3c3c" textLength="41.5" lengthAdjust="spacingAndGlyphs" class="m">G2</text>
</g>
</g>
</g>
<g filter="url(#b2)">
<text x="410.2" y="58.6" font-size="63.5" text-anchor="middle" font-weight="bold" fill="#000" textLength="223" lengthAdjust="spacingAndGlyphs">Control</text>
<text x="467.3" y="216.2" font-size="46.5" text-anchor="start" font-weight="bold" fill="#000" textLength="237" lengthAdjust="spacingAndGlyphs">G1:61.29%</text>
<text x="467.3" y="273" font-size="46.5" text-anchor="start" font-weight="bold" fill="#000" textLength="206" lengthAdjust="spacingAndGlyphs">S:23.52%</text>
<text x="467.3" y="329.6" font-size="46.5" text-anchor="start" font-weight="bold" fill="#000" textLength="237" lengthAdjust="spacingAndGlyphs">G2:15.20%</text>
<text x="1244.5" y="59.6" font-size="65" text-anchor="middle" font-weight="bold" fill="#000" textLength="139.5" lengthAdjust="spacingAndGlyphs">COS</text>
<text x="1343.2" y="216.2" font-size="46.5" text-anchor="start" font-weight="bold" fill="#000" textLength="237" lengthAdjust="spacingAndGlyphs">G1:59.37%</text>
<text x="1343.2" y="273.3" font-size="46.5" text-anchor="start" font-weight="bold" fill="#000" textLength="206" lengthAdjust="spacingAndGlyphs">S:27.09%</text>
<text x="1343.2" y="329.4" font-size="46.5" text-anchor="start" font-weight="bold" fill="#000" textLength="237" lengthAdjust="spacingAndGlyphs">G2:13.54%</text>
<text x="409.2" y="917.6" font-size="64.5" text-anchor="middle" font-weight="bold" fill="#000" textLength="185" lengthAdjust="spacingAndGlyphs">hIAPP</text>
<text x="465.3" y="1100.8" font-size="46.5" text-anchor="start" font-weight="bold" fill="#000" textLength="237" lengthAdjust="spacingAndGlyphs">G1:35.39%</text>
<text x="465.3" y="1158" font-size="46.5" text-anchor="start" font-weight="bold" fill="#000" textLength="206" lengthAdjust="spacingAndGlyphs">S:57.44%</text>
<text x="465.3" y="1214.6" font-size="46.5" text-anchor="start" font-weight="bold" fill="#000" textLength="211" lengthAdjust="spacingAndGlyphs">G2:0.69%</text>
<text x="1243.3" y="917.3" font-size="64" text-anchor="middle" font-weight="bold" fill="#000" textLength="357.5" lengthAdjust="spacingAndGlyphs">hIAPP+COS</text>
<text x="1345" y="1100.8" font-size="46.5" text-anchor="start" font-weight="bold" fill="#000" textLength="237" lengthAdjust="spacingAndGlyphs">G1:57.10%</text>
<text x="1345" y="1157.5" font-size="46.5" text-anchor="start" font-weight="bold" fill="#000" textLength="206" lengthAdjust="spacingAndGlyphs">S:31.96%</text>
<text x="1345" y="1213.3" font-size="46.5" text-anchor="start" font-weight="bold" fill="#000" textLength="237" lengthAdjust="spacingAndGlyphs">G2:10.95%</text>
</g>
</svg></body></html>
